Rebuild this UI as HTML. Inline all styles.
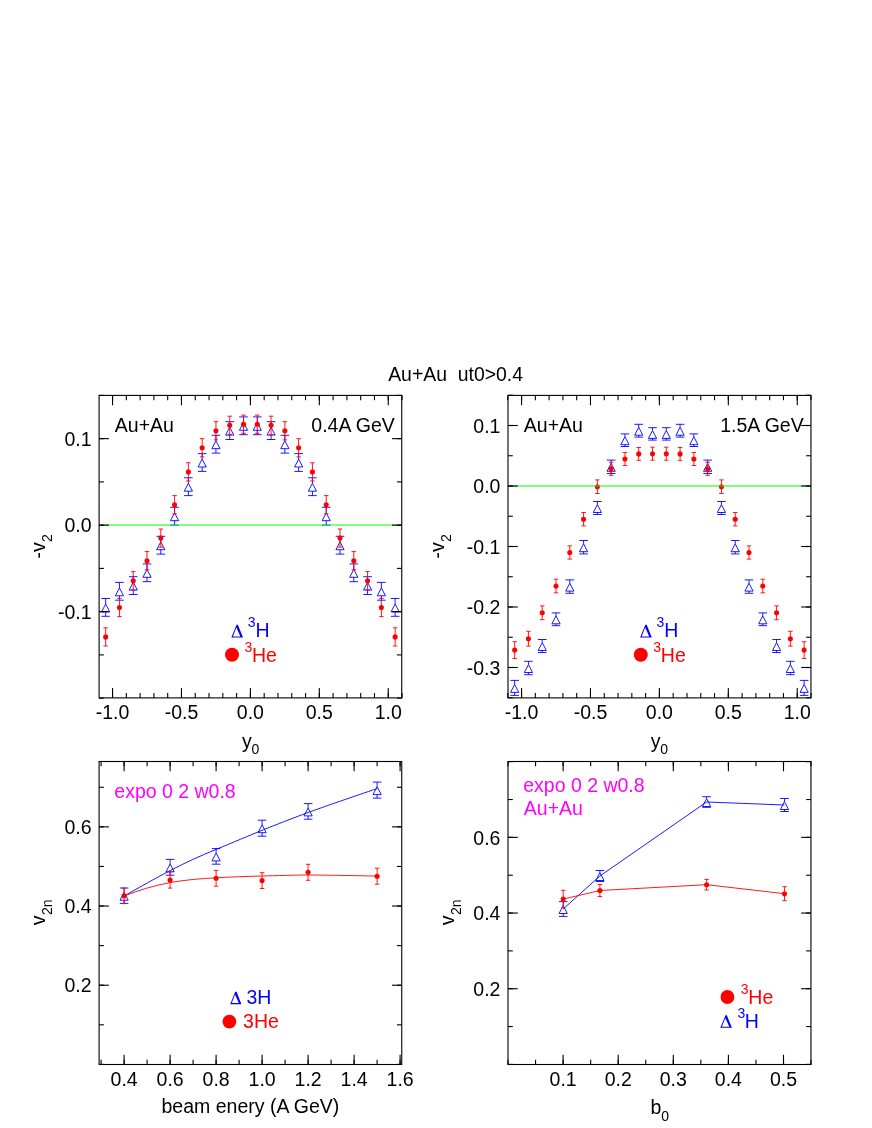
<!DOCTYPE html>
<html><head><meta charset="utf-8"><title>Au+Au ut0&gt;0.4</title>
<style>html,body{margin:0;padding:0;background:#fff}svg{display:block;will-change:transform}text{font-family:"Liberation Sans",sans-serif;white-space:pre}</style></head><body>
<svg width="872" height="1128" viewBox="0 0 872 1128">
<rect width="872" height="1128" fill="#fff"/>
<text x="388.2" y="381" fill="#000" font-size="19.4" text-anchor="start" xml:space="preserve">Au+Au  ut0&gt;0.4</text>
<line x1="105.66" y1="604" x2="105.66" y2="598.5" stroke="#0000ff" stroke-width="0.9"/>
<line x1="105.66" y1="611.9" x2="105.66" y2="616.3" stroke="#0000ff" stroke-width="0.9"/>
<line x1="101.36" y1="598.5" x2="109.96" y2="598.5" stroke="#0000ff" stroke-width="0.9"/>
<line x1="101.36" y1="616.3" x2="109.96" y2="616.3" stroke="#0000ff" stroke-width="0.9"/>
<path d="M101.56 611.9L109.76 611.9L105.66 604Z" fill="none" stroke="#0000ff" stroke-width="0.9"/>
<line x1="119.44" y1="587.9" x2="119.44" y2="582.4" stroke="#0000ff" stroke-width="0.9"/>
<line x1="119.44" y1="595.8" x2="119.44" y2="600.2" stroke="#0000ff" stroke-width="0.9"/>
<line x1="115.14" y1="582.4" x2="123.74" y2="582.4" stroke="#0000ff" stroke-width="0.9"/>
<line x1="115.14" y1="600.2" x2="123.74" y2="600.2" stroke="#0000ff" stroke-width="0.9"/>
<path d="M115.34 595.8L123.54 595.8L119.44 587.9Z" fill="none" stroke="#0000ff" stroke-width="0.9"/>
<line x1="133.23" y1="582.2" x2="133.23" y2="576.7" stroke="#0000ff" stroke-width="0.9"/>
<line x1="133.23" y1="590.1" x2="133.23" y2="594.5" stroke="#0000ff" stroke-width="0.9"/>
<line x1="128.93" y1="576.7" x2="137.53" y2="576.7" stroke="#0000ff" stroke-width="0.9"/>
<line x1="128.93" y1="594.5" x2="137.53" y2="594.5" stroke="#0000ff" stroke-width="0.9"/>
<path d="M129.13 590.1L137.33 590.1L133.23 582.2Z" fill="none" stroke="#0000ff" stroke-width="0.9"/>
<line x1="147.01" y1="569.4" x2="147.01" y2="563.9" stroke="#0000ff" stroke-width="0.9"/>
<line x1="147.01" y1="577.3" x2="147.01" y2="581.7" stroke="#0000ff" stroke-width="0.9"/>
<line x1="142.71" y1="563.9" x2="151.31" y2="563.9" stroke="#0000ff" stroke-width="0.9"/>
<line x1="142.71" y1="581.7" x2="151.31" y2="581.7" stroke="#0000ff" stroke-width="0.9"/>
<path d="M142.91 577.3L151.11 577.3L147.01 569.4Z" fill="none" stroke="#0000ff" stroke-width="0.9"/>
<line x1="160.8" y1="541.8" x2="160.8" y2="536.3" stroke="#0000ff" stroke-width="0.9"/>
<line x1="160.8" y1="549.7" x2="160.8" y2="554.1" stroke="#0000ff" stroke-width="0.9"/>
<line x1="156.5" y1="536.3" x2="165.1" y2="536.3" stroke="#0000ff" stroke-width="0.9"/>
<line x1="156.5" y1="554.1" x2="165.1" y2="554.1" stroke="#0000ff" stroke-width="0.9"/>
<path d="M156.7 549.7L164.9 549.7L160.8 541.8Z" fill="none" stroke="#0000ff" stroke-width="0.9"/>
<line x1="174.58" y1="512.8" x2="174.58" y2="507.3" stroke="#0000ff" stroke-width="0.9"/>
<line x1="174.58" y1="520.7" x2="174.58" y2="525.1" stroke="#0000ff" stroke-width="0.9"/>
<line x1="170.28" y1="507.3" x2="178.88" y2="507.3" stroke="#0000ff" stroke-width="0.9"/>
<line x1="170.28" y1="525.1" x2="178.88" y2="525.1" stroke="#0000ff" stroke-width="0.9"/>
<path d="M170.48 520.7L178.68 520.7L174.58 512.8Z" fill="none" stroke="#0000ff" stroke-width="0.9"/>
<line x1="188.37" y1="483.3" x2="188.37" y2="477.8" stroke="#0000ff" stroke-width="0.9"/>
<line x1="188.37" y1="491.2" x2="188.37" y2="495.6" stroke="#0000ff" stroke-width="0.9"/>
<line x1="184.07" y1="477.8" x2="192.67" y2="477.8" stroke="#0000ff" stroke-width="0.9"/>
<line x1="184.07" y1="495.6" x2="192.67" y2="495.6" stroke="#0000ff" stroke-width="0.9"/>
<path d="M184.27 491.2L192.47 491.2L188.37 483.3Z" fill="none" stroke="#0000ff" stroke-width="0.9"/>
<line x1="202.15" y1="459.1" x2="202.15" y2="453.6" stroke="#0000ff" stroke-width="0.9"/>
<line x1="202.15" y1="467" x2="202.15" y2="471.4" stroke="#0000ff" stroke-width="0.9"/>
<line x1="197.85" y1="453.6" x2="206.45" y2="453.6" stroke="#0000ff" stroke-width="0.9"/>
<line x1="197.85" y1="471.4" x2="206.45" y2="471.4" stroke="#0000ff" stroke-width="0.9"/>
<path d="M198.05 467L206.25 467L202.15 459.1Z" fill="none" stroke="#0000ff" stroke-width="0.9"/>
<line x1="215.94" y1="440.8" x2="215.94" y2="435.3" stroke="#0000ff" stroke-width="0.9"/>
<line x1="215.94" y1="448.7" x2="215.94" y2="453.1" stroke="#0000ff" stroke-width="0.9"/>
<line x1="211.64" y1="435.3" x2="220.24" y2="435.3" stroke="#0000ff" stroke-width="0.9"/>
<line x1="211.64" y1="453.1" x2="220.24" y2="453.1" stroke="#0000ff" stroke-width="0.9"/>
<path d="M211.84 448.7L220.04 448.7L215.94 440.8Z" fill="none" stroke="#0000ff" stroke-width="0.9"/>
<line x1="229.72" y1="427.2" x2="229.72" y2="421.7" stroke="#0000ff" stroke-width="0.9"/>
<line x1="229.72" y1="435.1" x2="229.72" y2="439.5" stroke="#0000ff" stroke-width="0.9"/>
<line x1="225.42" y1="421.7" x2="234.02" y2="421.7" stroke="#0000ff" stroke-width="0.9"/>
<line x1="225.42" y1="439.5" x2="234.02" y2="439.5" stroke="#0000ff" stroke-width="0.9"/>
<path d="M225.62 435.1L233.82 435.1L229.72 427.2Z" fill="none" stroke="#0000ff" stroke-width="0.9"/>
<line x1="243.51" y1="422.4" x2="243.51" y2="416.9" stroke="#0000ff" stroke-width="0.9"/>
<line x1="243.51" y1="430.3" x2="243.51" y2="434.7" stroke="#0000ff" stroke-width="0.9"/>
<line x1="239.21" y1="416.9" x2="247.81" y2="416.9" stroke="#0000ff" stroke-width="0.9"/>
<line x1="239.21" y1="434.7" x2="247.81" y2="434.7" stroke="#0000ff" stroke-width="0.9"/>
<path d="M239.41 430.3L247.61 430.3L243.51 422.4Z" fill="none" stroke="#0000ff" stroke-width="0.9"/>
<line x1="257.29" y1="422.4" x2="257.29" y2="416.9" stroke="#0000ff" stroke-width="0.9"/>
<line x1="257.29" y1="430.3" x2="257.29" y2="434.7" stroke="#0000ff" stroke-width="0.9"/>
<line x1="252.99" y1="416.9" x2="261.59" y2="416.9" stroke="#0000ff" stroke-width="0.9"/>
<line x1="252.99" y1="434.7" x2="261.59" y2="434.7" stroke="#0000ff" stroke-width="0.9"/>
<path d="M253.19 430.3L261.39 430.3L257.29 422.4Z" fill="none" stroke="#0000ff" stroke-width="0.9"/>
<line x1="271.08" y1="427.2" x2="271.08" y2="421.7" stroke="#0000ff" stroke-width="0.9"/>
<line x1="271.08" y1="435.1" x2="271.08" y2="439.5" stroke="#0000ff" stroke-width="0.9"/>
<line x1="266.78" y1="421.7" x2="275.38" y2="421.7" stroke="#0000ff" stroke-width="0.9"/>
<line x1="266.78" y1="439.5" x2="275.38" y2="439.5" stroke="#0000ff" stroke-width="0.9"/>
<path d="M266.98 435.1L275.18 435.1L271.08 427.2Z" fill="none" stroke="#0000ff" stroke-width="0.9"/>
<line x1="284.86" y1="440.8" x2="284.86" y2="435.3" stroke="#0000ff" stroke-width="0.9"/>
<line x1="284.86" y1="448.7" x2="284.86" y2="453.1" stroke="#0000ff" stroke-width="0.9"/>
<line x1="280.56" y1="435.3" x2="289.16" y2="435.3" stroke="#0000ff" stroke-width="0.9"/>
<line x1="280.56" y1="453.1" x2="289.16" y2="453.1" stroke="#0000ff" stroke-width="0.9"/>
<path d="M280.76 448.7L288.96 448.7L284.86 440.8Z" fill="none" stroke="#0000ff" stroke-width="0.9"/>
<line x1="298.65" y1="459.1" x2="298.65" y2="453.6" stroke="#0000ff" stroke-width="0.9"/>
<line x1="298.65" y1="467" x2="298.65" y2="471.4" stroke="#0000ff" stroke-width="0.9"/>
<line x1="294.35" y1="453.6" x2="302.95" y2="453.6" stroke="#0000ff" stroke-width="0.9"/>
<line x1="294.35" y1="471.4" x2="302.95" y2="471.4" stroke="#0000ff" stroke-width="0.9"/>
<path d="M294.55 467L302.75 467L298.65 459.1Z" fill="none" stroke="#0000ff" stroke-width="0.9"/>
<line x1="312.43" y1="483.3" x2="312.43" y2="477.8" stroke="#0000ff" stroke-width="0.9"/>
<line x1="312.43" y1="491.2" x2="312.43" y2="495.6" stroke="#0000ff" stroke-width="0.9"/>
<line x1="308.13" y1="477.8" x2="316.73" y2="477.8" stroke="#0000ff" stroke-width="0.9"/>
<line x1="308.13" y1="495.6" x2="316.73" y2="495.6" stroke="#0000ff" stroke-width="0.9"/>
<path d="M308.33 491.2L316.53 491.2L312.43 483.3Z" fill="none" stroke="#0000ff" stroke-width="0.9"/>
<line x1="326.22" y1="512.8" x2="326.22" y2="507.3" stroke="#0000ff" stroke-width="0.9"/>
<line x1="326.22" y1="520.7" x2="326.22" y2="525.1" stroke="#0000ff" stroke-width="0.9"/>
<line x1="321.92" y1="507.3" x2="330.52" y2="507.3" stroke="#0000ff" stroke-width="0.9"/>
<line x1="321.92" y1="525.1" x2="330.52" y2="525.1" stroke="#0000ff" stroke-width="0.9"/>
<path d="M322.12 520.7L330.32 520.7L326.22 512.8Z" fill="none" stroke="#0000ff" stroke-width="0.9"/>
<line x1="340" y1="541.8" x2="340" y2="536.3" stroke="#0000ff" stroke-width="0.9"/>
<line x1="340" y1="549.7" x2="340" y2="554.1" stroke="#0000ff" stroke-width="0.9"/>
<line x1="335.7" y1="536.3" x2="344.3" y2="536.3" stroke="#0000ff" stroke-width="0.9"/>
<line x1="335.7" y1="554.1" x2="344.3" y2="554.1" stroke="#0000ff" stroke-width="0.9"/>
<path d="M335.9 549.7L344.1 549.7L340 541.8Z" fill="none" stroke="#0000ff" stroke-width="0.9"/>
<line x1="353.79" y1="569.4" x2="353.79" y2="563.9" stroke="#0000ff" stroke-width="0.9"/>
<line x1="353.79" y1="577.3" x2="353.79" y2="581.7" stroke="#0000ff" stroke-width="0.9"/>
<line x1="349.49" y1="563.9" x2="358.09" y2="563.9" stroke="#0000ff" stroke-width="0.9"/>
<line x1="349.49" y1="581.7" x2="358.09" y2="581.7" stroke="#0000ff" stroke-width="0.9"/>
<path d="M349.69 577.3L357.89 577.3L353.79 569.4Z" fill="none" stroke="#0000ff" stroke-width="0.9"/>
<line x1="367.57" y1="582.2" x2="367.57" y2="576.7" stroke="#0000ff" stroke-width="0.9"/>
<line x1="367.57" y1="590.1" x2="367.57" y2="594.5" stroke="#0000ff" stroke-width="0.9"/>
<line x1="363.27" y1="576.7" x2="371.87" y2="576.7" stroke="#0000ff" stroke-width="0.9"/>
<line x1="363.27" y1="594.5" x2="371.87" y2="594.5" stroke="#0000ff" stroke-width="0.9"/>
<path d="M363.47 590.1L371.67 590.1L367.57 582.2Z" fill="none" stroke="#0000ff" stroke-width="0.9"/>
<line x1="381.36" y1="587.9" x2="381.36" y2="582.4" stroke="#0000ff" stroke-width="0.9"/>
<line x1="381.36" y1="595.8" x2="381.36" y2="600.2" stroke="#0000ff" stroke-width="0.9"/>
<line x1="377.06" y1="582.4" x2="385.66" y2="582.4" stroke="#0000ff" stroke-width="0.9"/>
<line x1="377.06" y1="600.2" x2="385.66" y2="600.2" stroke="#0000ff" stroke-width="0.9"/>
<path d="M377.26 595.8L385.46 595.8L381.36 587.9Z" fill="none" stroke="#0000ff" stroke-width="0.9"/>
<line x1="395.14" y1="604" x2="395.14" y2="598.5" stroke="#0000ff" stroke-width="0.9"/>
<line x1="395.14" y1="611.9" x2="395.14" y2="616.3" stroke="#0000ff" stroke-width="0.9"/>
<line x1="390.84" y1="598.5" x2="399.44" y2="598.5" stroke="#0000ff" stroke-width="0.9"/>
<line x1="390.84" y1="616.3" x2="399.44" y2="616.3" stroke="#0000ff" stroke-width="0.9"/>
<path d="M391.04 611.9L399.24 611.9L395.14 604Z" fill="none" stroke="#0000ff" stroke-width="0.9"/>
<line x1="105.66" y1="634.9" x2="105.66" y2="627.8" stroke="#ff0000" stroke-width="0.9"/>
<line x1="105.66" y1="638.9" x2="105.66" y2="646" stroke="#ff0000" stroke-width="0.9"/>
<line x1="103.41" y1="627.8" x2="107.91" y2="627.8" stroke="#ff0000" stroke-width="0.9"/>
<line x1="103.41" y1="646" x2="107.91" y2="646" stroke="#ff0000" stroke-width="0.9"/>
<circle cx="105.66" cy="636.9" r="2.55" fill="#ff0000"/>
<line x1="119.44" y1="605.5" x2="119.44" y2="598.4" stroke="#ff0000" stroke-width="0.9"/>
<line x1="119.44" y1="609.5" x2="119.44" y2="616.6" stroke="#ff0000" stroke-width="0.9"/>
<line x1="117.19" y1="598.4" x2="121.69" y2="598.4" stroke="#ff0000" stroke-width="0.9"/>
<line x1="117.19" y1="616.6" x2="121.69" y2="616.6" stroke="#ff0000" stroke-width="0.9"/>
<circle cx="119.44" cy="607.5" r="2.55" fill="#ff0000"/>
<line x1="133.23" y1="578.7" x2="133.23" y2="571.6" stroke="#ff0000" stroke-width="0.9"/>
<line x1="133.23" y1="582.7" x2="133.23" y2="589.8" stroke="#ff0000" stroke-width="0.9"/>
<line x1="130.98" y1="571.6" x2="135.48" y2="571.6" stroke="#ff0000" stroke-width="0.9"/>
<line x1="130.98" y1="589.8" x2="135.48" y2="589.8" stroke="#ff0000" stroke-width="0.9"/>
<circle cx="133.23" cy="580.7" r="2.55" fill="#ff0000"/>
<line x1="147.01" y1="558.7" x2="147.01" y2="551.6" stroke="#ff0000" stroke-width="0.9"/>
<line x1="147.01" y1="562.7" x2="147.01" y2="569.8" stroke="#ff0000" stroke-width="0.9"/>
<line x1="144.76" y1="551.6" x2="149.26" y2="551.6" stroke="#ff0000" stroke-width="0.9"/>
<line x1="144.76" y1="569.8" x2="149.26" y2="569.8" stroke="#ff0000" stroke-width="0.9"/>
<circle cx="147.01" cy="560.7" r="2.55" fill="#ff0000"/>
<line x1="160.8" y1="536.1" x2="160.8" y2="529" stroke="#ff0000" stroke-width="0.9"/>
<line x1="160.8" y1="540.1" x2="160.8" y2="547.2" stroke="#ff0000" stroke-width="0.9"/>
<line x1="158.55" y1="529" x2="163.05" y2="529" stroke="#ff0000" stroke-width="0.9"/>
<line x1="158.55" y1="547.2" x2="163.05" y2="547.2" stroke="#ff0000" stroke-width="0.9"/>
<circle cx="160.8" cy="538.1" r="2.55" fill="#ff0000"/>
<line x1="174.58" y1="502.7" x2="174.58" y2="495.6" stroke="#ff0000" stroke-width="0.9"/>
<line x1="174.58" y1="506.7" x2="174.58" y2="513.8" stroke="#ff0000" stroke-width="0.9"/>
<line x1="172.33" y1="495.6" x2="176.83" y2="495.6" stroke="#ff0000" stroke-width="0.9"/>
<line x1="172.33" y1="513.8" x2="176.83" y2="513.8" stroke="#ff0000" stroke-width="0.9"/>
<circle cx="174.58" cy="504.7" r="2.55" fill="#ff0000"/>
<line x1="188.37" y1="469.9" x2="188.37" y2="462.8" stroke="#ff0000" stroke-width="0.9"/>
<line x1="188.37" y1="473.9" x2="188.37" y2="481" stroke="#ff0000" stroke-width="0.9"/>
<line x1="186.12" y1="462.8" x2="190.62" y2="462.8" stroke="#ff0000" stroke-width="0.9"/>
<line x1="186.12" y1="481" x2="190.62" y2="481" stroke="#ff0000" stroke-width="0.9"/>
<circle cx="188.37" cy="471.9" r="2.55" fill="#ff0000"/>
<line x1="202.15" y1="445.8" x2="202.15" y2="438.7" stroke="#ff0000" stroke-width="0.9"/>
<line x1="202.15" y1="449.8" x2="202.15" y2="456.9" stroke="#ff0000" stroke-width="0.9"/>
<line x1="199.9" y1="438.7" x2="204.4" y2="438.7" stroke="#ff0000" stroke-width="0.9"/>
<line x1="199.9" y1="456.9" x2="204.4" y2="456.9" stroke="#ff0000" stroke-width="0.9"/>
<circle cx="202.15" cy="447.8" r="2.55" fill="#ff0000"/>
<line x1="215.94" y1="428.8" x2="215.94" y2="421.7" stroke="#ff0000" stroke-width="0.9"/>
<line x1="215.94" y1="432.8" x2="215.94" y2="439.9" stroke="#ff0000" stroke-width="0.9"/>
<line x1="213.69" y1="421.7" x2="218.19" y2="421.7" stroke="#ff0000" stroke-width="0.9"/>
<line x1="213.69" y1="439.9" x2="218.19" y2="439.9" stroke="#ff0000" stroke-width="0.9"/>
<circle cx="215.94" cy="430.8" r="2.55" fill="#ff0000"/>
<line x1="229.72" y1="423.3" x2="229.72" y2="416.2" stroke="#ff0000" stroke-width="0.9"/>
<line x1="229.72" y1="427.3" x2="229.72" y2="434.4" stroke="#ff0000" stroke-width="0.9"/>
<line x1="227.47" y1="416.2" x2="231.97" y2="416.2" stroke="#ff0000" stroke-width="0.9"/>
<line x1="227.47" y1="434.4" x2="231.97" y2="434.4" stroke="#ff0000" stroke-width="0.9"/>
<circle cx="229.72" cy="425.3" r="2.55" fill="#ff0000"/>
<line x1="243.51" y1="422.2" x2="243.51" y2="415.1" stroke="#ff0000" stroke-width="0.9"/>
<line x1="243.51" y1="426.2" x2="243.51" y2="433.3" stroke="#ff0000" stroke-width="0.9"/>
<line x1="241.26" y1="415.1" x2="245.76" y2="415.1" stroke="#ff0000" stroke-width="0.9"/>
<line x1="241.26" y1="433.3" x2="245.76" y2="433.3" stroke="#ff0000" stroke-width="0.9"/>
<circle cx="243.51" cy="424.2" r="2.55" fill="#ff0000"/>
<line x1="257.29" y1="422.2" x2="257.29" y2="415.1" stroke="#ff0000" stroke-width="0.9"/>
<line x1="257.29" y1="426.2" x2="257.29" y2="433.3" stroke="#ff0000" stroke-width="0.9"/>
<line x1="255.04" y1="415.1" x2="259.54" y2="415.1" stroke="#ff0000" stroke-width="0.9"/>
<line x1="255.04" y1="433.3" x2="259.54" y2="433.3" stroke="#ff0000" stroke-width="0.9"/>
<circle cx="257.29" cy="424.2" r="2.55" fill="#ff0000"/>
<line x1="271.08" y1="423.3" x2="271.08" y2="416.2" stroke="#ff0000" stroke-width="0.9"/>
<line x1="271.08" y1="427.3" x2="271.08" y2="434.4" stroke="#ff0000" stroke-width="0.9"/>
<line x1="268.83" y1="416.2" x2="273.33" y2="416.2" stroke="#ff0000" stroke-width="0.9"/>
<line x1="268.83" y1="434.4" x2="273.33" y2="434.4" stroke="#ff0000" stroke-width="0.9"/>
<circle cx="271.08" cy="425.3" r="2.55" fill="#ff0000"/>
<line x1="284.86" y1="428.8" x2="284.86" y2="421.7" stroke="#ff0000" stroke-width="0.9"/>
<line x1="284.86" y1="432.8" x2="284.86" y2="439.9" stroke="#ff0000" stroke-width="0.9"/>
<line x1="282.61" y1="421.7" x2="287.11" y2="421.7" stroke="#ff0000" stroke-width="0.9"/>
<line x1="282.61" y1="439.9" x2="287.11" y2="439.9" stroke="#ff0000" stroke-width="0.9"/>
<circle cx="284.86" cy="430.8" r="2.55" fill="#ff0000"/>
<line x1="298.65" y1="445.8" x2="298.65" y2="438.7" stroke="#ff0000" stroke-width="0.9"/>
<line x1="298.65" y1="449.8" x2="298.65" y2="456.9" stroke="#ff0000" stroke-width="0.9"/>
<line x1="296.4" y1="438.7" x2="300.9" y2="438.7" stroke="#ff0000" stroke-width="0.9"/>
<line x1="296.4" y1="456.9" x2="300.9" y2="456.9" stroke="#ff0000" stroke-width="0.9"/>
<circle cx="298.65" cy="447.8" r="2.55" fill="#ff0000"/>
<line x1="312.43" y1="469.9" x2="312.43" y2="462.8" stroke="#ff0000" stroke-width="0.9"/>
<line x1="312.43" y1="473.9" x2="312.43" y2="481" stroke="#ff0000" stroke-width="0.9"/>
<line x1="310.18" y1="462.8" x2="314.68" y2="462.8" stroke="#ff0000" stroke-width="0.9"/>
<line x1="310.18" y1="481" x2="314.68" y2="481" stroke="#ff0000" stroke-width="0.9"/>
<circle cx="312.43" cy="471.9" r="2.55" fill="#ff0000"/>
<line x1="326.22" y1="502.7" x2="326.22" y2="495.6" stroke="#ff0000" stroke-width="0.9"/>
<line x1="326.22" y1="506.7" x2="326.22" y2="513.8" stroke="#ff0000" stroke-width="0.9"/>
<line x1="323.97" y1="495.6" x2="328.47" y2="495.6" stroke="#ff0000" stroke-width="0.9"/>
<line x1="323.97" y1="513.8" x2="328.47" y2="513.8" stroke="#ff0000" stroke-width="0.9"/>
<circle cx="326.22" cy="504.7" r="2.55" fill="#ff0000"/>
<line x1="340" y1="536.1" x2="340" y2="529" stroke="#ff0000" stroke-width="0.9"/>
<line x1="340" y1="540.1" x2="340" y2="547.2" stroke="#ff0000" stroke-width="0.9"/>
<line x1="337.75" y1="529" x2="342.25" y2="529" stroke="#ff0000" stroke-width="0.9"/>
<line x1="337.75" y1="547.2" x2="342.25" y2="547.2" stroke="#ff0000" stroke-width="0.9"/>
<circle cx="340" cy="538.1" r="2.55" fill="#ff0000"/>
<line x1="353.79" y1="558.7" x2="353.79" y2="551.6" stroke="#ff0000" stroke-width="0.9"/>
<line x1="353.79" y1="562.7" x2="353.79" y2="569.8" stroke="#ff0000" stroke-width="0.9"/>
<line x1="351.54" y1="551.6" x2="356.04" y2="551.6" stroke="#ff0000" stroke-width="0.9"/>
<line x1="351.54" y1="569.8" x2="356.04" y2="569.8" stroke="#ff0000" stroke-width="0.9"/>
<circle cx="353.79" cy="560.7" r="2.55" fill="#ff0000"/>
<line x1="367.57" y1="578.7" x2="367.57" y2="571.6" stroke="#ff0000" stroke-width="0.9"/>
<line x1="367.57" y1="582.7" x2="367.57" y2="589.8" stroke="#ff0000" stroke-width="0.9"/>
<line x1="365.32" y1="571.6" x2="369.82" y2="571.6" stroke="#ff0000" stroke-width="0.9"/>
<line x1="365.32" y1="589.8" x2="369.82" y2="589.8" stroke="#ff0000" stroke-width="0.9"/>
<circle cx="367.57" cy="580.7" r="2.55" fill="#ff0000"/>
<line x1="381.36" y1="605.5" x2="381.36" y2="598.4" stroke="#ff0000" stroke-width="0.9"/>
<line x1="381.36" y1="609.5" x2="381.36" y2="616.6" stroke="#ff0000" stroke-width="0.9"/>
<line x1="379.11" y1="598.4" x2="383.61" y2="598.4" stroke="#ff0000" stroke-width="0.9"/>
<line x1="379.11" y1="616.6" x2="383.61" y2="616.6" stroke="#ff0000" stroke-width="0.9"/>
<circle cx="381.36" cy="607.5" r="2.55" fill="#ff0000"/>
<line x1="395.14" y1="634.9" x2="395.14" y2="627.8" stroke="#ff0000" stroke-width="0.9"/>
<line x1="395.14" y1="638.9" x2="395.14" y2="646" stroke="#ff0000" stroke-width="0.9"/>
<line x1="392.89" y1="627.8" x2="397.39" y2="627.8" stroke="#ff0000" stroke-width="0.9"/>
<line x1="392.89" y1="646" x2="397.39" y2="646" stroke="#ff0000" stroke-width="0.9"/>
<circle cx="395.14" cy="636.9" r="2.55" fill="#ff0000"/>
<line x1="99.1" y1="525.05" x2="401.75" y2="525.05" stroke="#00ff00" stroke-width="1.05"/>
<rect x="99.1" y="395.4" width="302.65" height="302.5" fill="none" stroke="#000" stroke-width="1.1"/>
<line x1="112.55" y1="697.9" x2="112.55" y2="693.1" stroke="#000" stroke-width="1.1"/>
<line x1="112.55" y1="395.4" x2="112.55" y2="400.2" stroke="#000" stroke-width="1.1"/>
<line x1="126.34" y1="697.9" x2="126.34" y2="693.1" stroke="#000" stroke-width="1.1"/>
<line x1="126.34" y1="395.4" x2="126.34" y2="400.2" stroke="#000" stroke-width="1.1"/>
<line x1="140.12" y1="697.9" x2="140.12" y2="693.1" stroke="#000" stroke-width="1.1"/>
<line x1="140.12" y1="395.4" x2="140.12" y2="400.2" stroke="#000" stroke-width="1.1"/>
<line x1="153.91" y1="697.9" x2="153.91" y2="693.1" stroke="#000" stroke-width="1.1"/>
<line x1="153.91" y1="395.4" x2="153.91" y2="400.2" stroke="#000" stroke-width="1.1"/>
<line x1="167.69" y1="697.9" x2="167.69" y2="693.1" stroke="#000" stroke-width="1.1"/>
<line x1="167.69" y1="395.4" x2="167.69" y2="400.2" stroke="#000" stroke-width="1.1"/>
<line x1="181.48" y1="697.9" x2="181.48" y2="693.1" stroke="#000" stroke-width="1.1"/>
<line x1="181.48" y1="395.4" x2="181.48" y2="400.2" stroke="#000" stroke-width="1.1"/>
<line x1="195.26" y1="697.9" x2="195.26" y2="693.1" stroke="#000" stroke-width="1.1"/>
<line x1="195.26" y1="395.4" x2="195.26" y2="400.2" stroke="#000" stroke-width="1.1"/>
<line x1="209.05" y1="697.9" x2="209.05" y2="693.1" stroke="#000" stroke-width="1.1"/>
<line x1="209.05" y1="395.4" x2="209.05" y2="400.2" stroke="#000" stroke-width="1.1"/>
<line x1="222.83" y1="697.9" x2="222.83" y2="693.1" stroke="#000" stroke-width="1.1"/>
<line x1="222.83" y1="395.4" x2="222.83" y2="400.2" stroke="#000" stroke-width="1.1"/>
<line x1="236.62" y1="697.9" x2="236.62" y2="693.1" stroke="#000" stroke-width="1.1"/>
<line x1="236.62" y1="395.4" x2="236.62" y2="400.2" stroke="#000" stroke-width="1.1"/>
<line x1="250.4" y1="697.9" x2="250.4" y2="693.1" stroke="#000" stroke-width="1.1"/>
<line x1="250.4" y1="395.4" x2="250.4" y2="400.2" stroke="#000" stroke-width="1.1"/>
<line x1="264.19" y1="697.9" x2="264.19" y2="693.1" stroke="#000" stroke-width="1.1"/>
<line x1="264.19" y1="395.4" x2="264.19" y2="400.2" stroke="#000" stroke-width="1.1"/>
<line x1="277.97" y1="697.9" x2="277.97" y2="693.1" stroke="#000" stroke-width="1.1"/>
<line x1="277.97" y1="395.4" x2="277.97" y2="400.2" stroke="#000" stroke-width="1.1"/>
<line x1="291.75" y1="697.9" x2="291.75" y2="693.1" stroke="#000" stroke-width="1.1"/>
<line x1="291.75" y1="395.4" x2="291.75" y2="400.2" stroke="#000" stroke-width="1.1"/>
<line x1="305.54" y1="697.9" x2="305.54" y2="693.1" stroke="#000" stroke-width="1.1"/>
<line x1="305.54" y1="395.4" x2="305.54" y2="400.2" stroke="#000" stroke-width="1.1"/>
<line x1="319.32" y1="697.9" x2="319.32" y2="693.1" stroke="#000" stroke-width="1.1"/>
<line x1="319.32" y1="395.4" x2="319.32" y2="400.2" stroke="#000" stroke-width="1.1"/>
<line x1="333.11" y1="697.9" x2="333.11" y2="693.1" stroke="#000" stroke-width="1.1"/>
<line x1="333.11" y1="395.4" x2="333.11" y2="400.2" stroke="#000" stroke-width="1.1"/>
<line x1="346.89" y1="697.9" x2="346.89" y2="693.1" stroke="#000" stroke-width="1.1"/>
<line x1="346.89" y1="395.4" x2="346.89" y2="400.2" stroke="#000" stroke-width="1.1"/>
<line x1="360.68" y1="697.9" x2="360.68" y2="693.1" stroke="#000" stroke-width="1.1"/>
<line x1="360.68" y1="395.4" x2="360.68" y2="400.2" stroke="#000" stroke-width="1.1"/>
<line x1="374.47" y1="697.9" x2="374.47" y2="693.1" stroke="#000" stroke-width="1.1"/>
<line x1="374.47" y1="395.4" x2="374.47" y2="400.2" stroke="#000" stroke-width="1.1"/>
<line x1="388.25" y1="697.9" x2="388.25" y2="693.1" stroke="#000" stroke-width="1.1"/>
<line x1="388.25" y1="395.4" x2="388.25" y2="400.2" stroke="#000" stroke-width="1.1"/>
<line x1="402.04" y1="697.9" x2="402.04" y2="693.1" stroke="#000" stroke-width="1.1"/>
<line x1="402.04" y1="395.4" x2="402.04" y2="400.2" stroke="#000" stroke-width="1.1"/>
<line x1="112.55" y1="697.9" x2="112.55" y2="688.1" stroke="#000" stroke-width="1.1"/>
<line x1="112.55" y1="395.4" x2="112.55" y2="405.2" stroke="#000" stroke-width="1.1"/>
<text x="112.55" y="719" fill="#000" font-size="19.5" text-anchor="middle">-1.0</text>
<line x1="181.48" y1="697.9" x2="181.48" y2="688.1" stroke="#000" stroke-width="1.1"/>
<line x1="181.48" y1="395.4" x2="181.48" y2="405.2" stroke="#000" stroke-width="1.1"/>
<text x="181.48" y="719" fill="#000" font-size="19.5" text-anchor="middle">-0.5</text>
<line x1="250.4" y1="697.9" x2="250.4" y2="688.1" stroke="#000" stroke-width="1.1"/>
<line x1="250.4" y1="395.4" x2="250.4" y2="405.2" stroke="#000" stroke-width="1.1"/>
<text x="250.4" y="719" fill="#000" font-size="19.5" text-anchor="middle">0.0</text>
<line x1="319.32" y1="697.9" x2="319.32" y2="688.1" stroke="#000" stroke-width="1.1"/>
<line x1="319.32" y1="395.4" x2="319.32" y2="405.2" stroke="#000" stroke-width="1.1"/>
<text x="319.32" y="719" fill="#000" font-size="19.5" text-anchor="middle">0.5</text>
<line x1="388.25" y1="697.9" x2="388.25" y2="688.1" stroke="#000" stroke-width="1.1"/>
<line x1="388.25" y1="395.4" x2="388.25" y2="405.2" stroke="#000" stroke-width="1.1"/>
<text x="388.25" y="719" fill="#000" font-size="19.5" text-anchor="middle">1.0</text>
<line x1="99.1" y1="698.15" x2="103.9" y2="698.15" stroke="#000" stroke-width="1.1"/>
<line x1="401.75" y1="698.15" x2="396.95" y2="698.15" stroke="#000" stroke-width="1.1"/>
<line x1="99.1" y1="654.9" x2="103.9" y2="654.9" stroke="#000" stroke-width="1.1"/>
<line x1="401.75" y1="654.9" x2="396.95" y2="654.9" stroke="#000" stroke-width="1.1"/>
<line x1="99.1" y1="611.65" x2="103.9" y2="611.65" stroke="#000" stroke-width="1.1"/>
<line x1="401.75" y1="611.65" x2="396.95" y2="611.65" stroke="#000" stroke-width="1.1"/>
<line x1="99.1" y1="568.4" x2="103.9" y2="568.4" stroke="#000" stroke-width="1.1"/>
<line x1="401.75" y1="568.4" x2="396.95" y2="568.4" stroke="#000" stroke-width="1.1"/>
<line x1="99.1" y1="525.15" x2="103.9" y2="525.15" stroke="#000" stroke-width="1.1"/>
<line x1="401.75" y1="525.15" x2="396.95" y2="525.15" stroke="#000" stroke-width="1.1"/>
<line x1="99.1" y1="481.9" x2="103.9" y2="481.9" stroke="#000" stroke-width="1.1"/>
<line x1="401.75" y1="481.9" x2="396.95" y2="481.9" stroke="#000" stroke-width="1.1"/>
<line x1="99.1" y1="438.65" x2="103.9" y2="438.65" stroke="#000" stroke-width="1.1"/>
<line x1="401.75" y1="438.65" x2="396.95" y2="438.65" stroke="#000" stroke-width="1.1"/>
<line x1="99.1" y1="395.4" x2="103.9" y2="395.4" stroke="#000" stroke-width="1.1"/>
<line x1="401.75" y1="395.4" x2="396.95" y2="395.4" stroke="#000" stroke-width="1.1"/>
<line x1="99.1" y1="611.65" x2="108.9" y2="611.65" stroke="#000" stroke-width="1.1"/>
<line x1="401.75" y1="611.65" x2="391.95" y2="611.65" stroke="#000" stroke-width="1.1"/>
<text x="91.5" y="618.85" fill="#000" font-size="19.5" text-anchor="end">-0.1</text>
<line x1="99.1" y1="525.15" x2="108.9" y2="525.15" stroke="#000" stroke-width="1.1"/>
<line x1="401.75" y1="525.15" x2="391.95" y2="525.15" stroke="#000" stroke-width="1.1"/>
<text x="91.5" y="532.35" fill="#000" font-size="19.5" text-anchor="end">0.0</text>
<line x1="99.1" y1="438.65" x2="108.9" y2="438.65" stroke="#000" stroke-width="1.1"/>
<line x1="401.75" y1="438.65" x2="391.95" y2="438.65" stroke="#000" stroke-width="1.1"/>
<text x="91.5" y="445.85" fill="#000" font-size="19.5" text-anchor="end">0.1</text>
<text x="114.8" y="431.8" fill="#000" font-size="19.5" text-anchor="start">Au+Au</text>
<text x="311.3" y="431.8" fill="#000" font-size="19.5" text-anchor="start">0.4A GeV</text>
<line x1="514.66" y1="684.5" x2="514.66" y2="680.4" stroke="#0000ff" stroke-width="0.9"/>
<line x1="514.66" y1="692.4" x2="514.66" y2="695.4" stroke="#0000ff" stroke-width="0.9"/>
<line x1="510.36" y1="680.4" x2="518.96" y2="680.4" stroke="#0000ff" stroke-width="0.9"/>
<line x1="510.36" y1="695.4" x2="518.96" y2="695.4" stroke="#0000ff" stroke-width="0.9"/>
<path d="M510.56 692.4L518.76 692.4L514.66 684.5Z" fill="none" stroke="#0000ff" stroke-width="0.9"/>
<line x1="528.44" y1="664.6" x2="528.44" y2="661.3" stroke="#0000ff" stroke-width="0.9"/>
<line x1="528.44" y1="672.5" x2="528.44" y2="674.7" stroke="#0000ff" stroke-width="0.9"/>
<line x1="524.14" y1="661.3" x2="532.74" y2="661.3" stroke="#0000ff" stroke-width="0.9"/>
<line x1="524.14" y1="674.7" x2="532.74" y2="674.7" stroke="#0000ff" stroke-width="0.9"/>
<path d="M524.34 672.5L532.54 672.5L528.44 664.6Z" fill="none" stroke="#0000ff" stroke-width="0.9"/>
<line x1="542.23" y1="642.6" x2="542.23" y2="639.5" stroke="#0000ff" stroke-width="0.9"/>
<line x1="542.23" y1="650.5" x2="542.23" y2="652.5" stroke="#0000ff" stroke-width="0.9"/>
<line x1="537.93" y1="639.5" x2="546.53" y2="639.5" stroke="#0000ff" stroke-width="0.9"/>
<line x1="537.93" y1="652.5" x2="546.53" y2="652.5" stroke="#0000ff" stroke-width="0.9"/>
<path d="M538.13 650.5L546.33 650.5L542.23 642.6Z" fill="none" stroke="#0000ff" stroke-width="0.9"/>
<line x1="556.01" y1="615.9" x2="556.01" y2="612.9" stroke="#0000ff" stroke-width="0.9"/>
<line x1="556.01" y1="623.8" x2="556.01" y2="625.7" stroke="#0000ff" stroke-width="0.9"/>
<line x1="551.71" y1="612.9" x2="560.31" y2="612.9" stroke="#0000ff" stroke-width="0.9"/>
<line x1="551.71" y1="625.7" x2="560.31" y2="625.7" stroke="#0000ff" stroke-width="0.9"/>
<path d="M551.91 623.8L560.11 623.8L556.01 615.9Z" fill="none" stroke="#0000ff" stroke-width="0.9"/>
<line x1="569.8" y1="583.2" x2="569.8" y2="579.9" stroke="#0000ff" stroke-width="0.9"/>
<line x1="569.8" y1="591.1" x2="569.8" y2="593.3" stroke="#0000ff" stroke-width="0.9"/>
<line x1="565.5" y1="579.9" x2="574.1" y2="579.9" stroke="#0000ff" stroke-width="0.9"/>
<line x1="565.5" y1="593.3" x2="574.1" y2="593.3" stroke="#0000ff" stroke-width="0.9"/>
<path d="M565.7 591.1L573.9 591.1L569.8 583.2Z" fill="none" stroke="#0000ff" stroke-width="0.9"/>
<line x1="583.58" y1="543.8" x2="583.58" y2="540.5" stroke="#0000ff" stroke-width="0.9"/>
<line x1="583.58" y1="551.7" x2="583.58" y2="553.9" stroke="#0000ff" stroke-width="0.9"/>
<line x1="579.28" y1="540.5" x2="587.88" y2="540.5" stroke="#0000ff" stroke-width="0.9"/>
<line x1="579.28" y1="553.9" x2="587.88" y2="553.9" stroke="#0000ff" stroke-width="0.9"/>
<path d="M579.48 551.7L587.68 551.7L583.58 543.8Z" fill="none" stroke="#0000ff" stroke-width="0.9"/>
<line x1="597.37" y1="504.6" x2="597.37" y2="501.5" stroke="#0000ff" stroke-width="0.9"/>
<line x1="597.37" y1="512.5" x2="597.37" y2="514.5" stroke="#0000ff" stroke-width="0.9"/>
<line x1="593.07" y1="501.5" x2="601.67" y2="501.5" stroke="#0000ff" stroke-width="0.9"/>
<line x1="593.07" y1="514.5" x2="601.67" y2="514.5" stroke="#0000ff" stroke-width="0.9"/>
<path d="M593.27 512.5L601.47 512.5L597.37 504.6Z" fill="none" stroke="#0000ff" stroke-width="0.9"/>
<line x1="611.15" y1="463.4" x2="611.15" y2="460.1" stroke="#0000ff" stroke-width="0.9"/>
<line x1="611.15" y1="471.3" x2="611.15" y2="473.5" stroke="#0000ff" stroke-width="0.9"/>
<line x1="606.85" y1="460.1" x2="615.45" y2="460.1" stroke="#0000ff" stroke-width="0.9"/>
<line x1="606.85" y1="473.5" x2="615.45" y2="473.5" stroke="#0000ff" stroke-width="0.9"/>
<path d="M607.05 471.3L615.25 471.3L611.15 463.4Z" fill="none" stroke="#0000ff" stroke-width="0.9"/>
<line x1="624.94" y1="436.8" x2="624.94" y2="433.9" stroke="#0000ff" stroke-width="0.9"/>
<line x1="624.94" y1="444.7" x2="624.94" y2="446.5" stroke="#0000ff" stroke-width="0.9"/>
<line x1="620.64" y1="433.9" x2="629.24" y2="433.9" stroke="#0000ff" stroke-width="0.9"/>
<line x1="620.64" y1="446.5" x2="629.24" y2="446.5" stroke="#0000ff" stroke-width="0.9"/>
<path d="M620.84 444.7L629.04 444.7L624.94 436.8Z" fill="none" stroke="#0000ff" stroke-width="0.9"/>
<line x1="638.72" y1="427.3" x2="638.72" y2="424.3" stroke="#0000ff" stroke-width="0.9"/>
<line x1="638.72" y1="435.2" x2="638.72" y2="437.1" stroke="#0000ff" stroke-width="0.9"/>
<line x1="634.42" y1="424.3" x2="643.02" y2="424.3" stroke="#0000ff" stroke-width="0.9"/>
<line x1="634.42" y1="437.1" x2="643.02" y2="437.1" stroke="#0000ff" stroke-width="0.9"/>
<path d="M634.62 435.2L642.82 435.2L638.72 427.3Z" fill="none" stroke="#0000ff" stroke-width="0.9"/>
<line x1="652.51" y1="430.5" x2="652.51" y2="427.7" stroke="#0000ff" stroke-width="0.9"/>
<line x1="652.51" y1="438.4" x2="652.51" y2="440.1" stroke="#0000ff" stroke-width="0.9"/>
<line x1="648.21" y1="427.7" x2="656.81" y2="427.7" stroke="#0000ff" stroke-width="0.9"/>
<line x1="648.21" y1="440.1" x2="656.81" y2="440.1" stroke="#0000ff" stroke-width="0.9"/>
<path d="M648.41 438.4L656.61 438.4L652.51 430.5Z" fill="none" stroke="#0000ff" stroke-width="0.9"/>
<line x1="666.29" y1="430.5" x2="666.29" y2="427.7" stroke="#0000ff" stroke-width="0.9"/>
<line x1="666.29" y1="438.4" x2="666.29" y2="440.1" stroke="#0000ff" stroke-width="0.9"/>
<line x1="661.99" y1="427.7" x2="670.59" y2="427.7" stroke="#0000ff" stroke-width="0.9"/>
<line x1="661.99" y1="440.1" x2="670.59" y2="440.1" stroke="#0000ff" stroke-width="0.9"/>
<path d="M662.19 438.4L670.39 438.4L666.29 430.5Z" fill="none" stroke="#0000ff" stroke-width="0.9"/>
<line x1="680.08" y1="427.3" x2="680.08" y2="424.3" stroke="#0000ff" stroke-width="0.9"/>
<line x1="680.08" y1="435.2" x2="680.08" y2="437.1" stroke="#0000ff" stroke-width="0.9"/>
<line x1="675.78" y1="424.3" x2="684.38" y2="424.3" stroke="#0000ff" stroke-width="0.9"/>
<line x1="675.78" y1="437.1" x2="684.38" y2="437.1" stroke="#0000ff" stroke-width="0.9"/>
<path d="M675.98 435.2L684.18 435.2L680.08 427.3Z" fill="none" stroke="#0000ff" stroke-width="0.9"/>
<line x1="693.86" y1="436.8" x2="693.86" y2="433.9" stroke="#0000ff" stroke-width="0.9"/>
<line x1="693.86" y1="444.7" x2="693.86" y2="446.5" stroke="#0000ff" stroke-width="0.9"/>
<line x1="689.56" y1="433.9" x2="698.16" y2="433.9" stroke="#0000ff" stroke-width="0.9"/>
<line x1="689.56" y1="446.5" x2="698.16" y2="446.5" stroke="#0000ff" stroke-width="0.9"/>
<path d="M689.76 444.7L697.96 444.7L693.86 436.8Z" fill="none" stroke="#0000ff" stroke-width="0.9"/>
<line x1="707.65" y1="463.4" x2="707.65" y2="460.1" stroke="#0000ff" stroke-width="0.9"/>
<line x1="707.65" y1="471.3" x2="707.65" y2="473.5" stroke="#0000ff" stroke-width="0.9"/>
<line x1="703.35" y1="460.1" x2="711.95" y2="460.1" stroke="#0000ff" stroke-width="0.9"/>
<line x1="703.35" y1="473.5" x2="711.95" y2="473.5" stroke="#0000ff" stroke-width="0.9"/>
<path d="M703.55 471.3L711.75 471.3L707.65 463.4Z" fill="none" stroke="#0000ff" stroke-width="0.9"/>
<line x1="721.43" y1="504.6" x2="721.43" y2="501.5" stroke="#0000ff" stroke-width="0.9"/>
<line x1="721.43" y1="512.5" x2="721.43" y2="514.5" stroke="#0000ff" stroke-width="0.9"/>
<line x1="717.13" y1="501.5" x2="725.73" y2="501.5" stroke="#0000ff" stroke-width="0.9"/>
<line x1="717.13" y1="514.5" x2="725.73" y2="514.5" stroke="#0000ff" stroke-width="0.9"/>
<path d="M717.33 512.5L725.53 512.5L721.43 504.6Z" fill="none" stroke="#0000ff" stroke-width="0.9"/>
<line x1="735.22" y1="543.8" x2="735.22" y2="540.5" stroke="#0000ff" stroke-width="0.9"/>
<line x1="735.22" y1="551.7" x2="735.22" y2="553.9" stroke="#0000ff" stroke-width="0.9"/>
<line x1="730.92" y1="540.5" x2="739.52" y2="540.5" stroke="#0000ff" stroke-width="0.9"/>
<line x1="730.92" y1="553.9" x2="739.52" y2="553.9" stroke="#0000ff" stroke-width="0.9"/>
<path d="M731.12 551.7L739.32 551.7L735.22 543.8Z" fill="none" stroke="#0000ff" stroke-width="0.9"/>
<line x1="749" y1="583.2" x2="749" y2="579.9" stroke="#0000ff" stroke-width="0.9"/>
<line x1="749" y1="591.1" x2="749" y2="593.3" stroke="#0000ff" stroke-width="0.9"/>
<line x1="744.7" y1="579.9" x2="753.3" y2="579.9" stroke="#0000ff" stroke-width="0.9"/>
<line x1="744.7" y1="593.3" x2="753.3" y2="593.3" stroke="#0000ff" stroke-width="0.9"/>
<path d="M744.9 591.1L753.1 591.1L749 583.2Z" fill="none" stroke="#0000ff" stroke-width="0.9"/>
<line x1="762.79" y1="615.9" x2="762.79" y2="612.9" stroke="#0000ff" stroke-width="0.9"/>
<line x1="762.79" y1="623.8" x2="762.79" y2="625.7" stroke="#0000ff" stroke-width="0.9"/>
<line x1="758.49" y1="612.9" x2="767.09" y2="612.9" stroke="#0000ff" stroke-width="0.9"/>
<line x1="758.49" y1="625.7" x2="767.09" y2="625.7" stroke="#0000ff" stroke-width="0.9"/>
<path d="M758.69 623.8L766.89 623.8L762.79 615.9Z" fill="none" stroke="#0000ff" stroke-width="0.9"/>
<line x1="776.57" y1="642.6" x2="776.57" y2="639.5" stroke="#0000ff" stroke-width="0.9"/>
<line x1="776.57" y1="650.5" x2="776.57" y2="652.5" stroke="#0000ff" stroke-width="0.9"/>
<line x1="772.27" y1="639.5" x2="780.87" y2="639.5" stroke="#0000ff" stroke-width="0.9"/>
<line x1="772.27" y1="652.5" x2="780.87" y2="652.5" stroke="#0000ff" stroke-width="0.9"/>
<path d="M772.47 650.5L780.67 650.5L776.57 642.6Z" fill="none" stroke="#0000ff" stroke-width="0.9"/>
<line x1="790.36" y1="664.6" x2="790.36" y2="661.3" stroke="#0000ff" stroke-width="0.9"/>
<line x1="790.36" y1="672.5" x2="790.36" y2="674.7" stroke="#0000ff" stroke-width="0.9"/>
<line x1="786.06" y1="661.3" x2="794.66" y2="661.3" stroke="#0000ff" stroke-width="0.9"/>
<line x1="786.06" y1="674.7" x2="794.66" y2="674.7" stroke="#0000ff" stroke-width="0.9"/>
<path d="M786.26 672.5L794.46 672.5L790.36 664.6Z" fill="none" stroke="#0000ff" stroke-width="0.9"/>
<line x1="804.14" y1="684.5" x2="804.14" y2="680.4" stroke="#0000ff" stroke-width="0.9"/>
<line x1="804.14" y1="692.4" x2="804.14" y2="695.4" stroke="#0000ff" stroke-width="0.9"/>
<line x1="799.84" y1="680.4" x2="808.44" y2="680.4" stroke="#0000ff" stroke-width="0.9"/>
<line x1="799.84" y1="695.4" x2="808.44" y2="695.4" stroke="#0000ff" stroke-width="0.9"/>
<path d="M800.04 692.4L808.24 692.4L804.14 684.5Z" fill="none" stroke="#0000ff" stroke-width="0.9"/>
<line x1="514.66" y1="648.1" x2="514.66" y2="641.7" stroke="#ff0000" stroke-width="0.9"/>
<line x1="514.66" y1="652.1" x2="514.66" y2="658.5" stroke="#ff0000" stroke-width="0.9"/>
<line x1="512.41" y1="641.7" x2="516.91" y2="641.7" stroke="#ff0000" stroke-width="0.9"/>
<line x1="512.41" y1="658.5" x2="516.91" y2="658.5" stroke="#ff0000" stroke-width="0.9"/>
<circle cx="514.66" cy="650.1" r="2.55" fill="#ff0000"/>
<line x1="528.44" y1="636.7" x2="528.44" y2="631.3" stroke="#ff0000" stroke-width="0.9"/>
<line x1="528.44" y1="640.7" x2="528.44" y2="646.1" stroke="#ff0000" stroke-width="0.9"/>
<line x1="526.19" y1="631.3" x2="530.69" y2="631.3" stroke="#ff0000" stroke-width="0.9"/>
<line x1="526.19" y1="646.1" x2="530.69" y2="646.1" stroke="#ff0000" stroke-width="0.9"/>
<circle cx="528.44" cy="638.7" r="2.55" fill="#ff0000"/>
<line x1="542.23" y1="610.8" x2="542.23" y2="605.9" stroke="#ff0000" stroke-width="0.9"/>
<line x1="542.23" y1="614.8" x2="542.23" y2="619.7" stroke="#ff0000" stroke-width="0.9"/>
<line x1="539.98" y1="605.9" x2="544.48" y2="605.9" stroke="#ff0000" stroke-width="0.9"/>
<line x1="539.98" y1="619.7" x2="544.48" y2="619.7" stroke="#ff0000" stroke-width="0.9"/>
<circle cx="542.23" cy="612.8" r="2.55" fill="#ff0000"/>
<line x1="556.01" y1="584" x2="556.01" y2="579.2" stroke="#ff0000" stroke-width="0.9"/>
<line x1="556.01" y1="588" x2="556.01" y2="592.8" stroke="#ff0000" stroke-width="0.9"/>
<line x1="553.76" y1="579.2" x2="558.26" y2="579.2" stroke="#ff0000" stroke-width="0.9"/>
<line x1="553.76" y1="592.8" x2="558.26" y2="592.8" stroke="#ff0000" stroke-width="0.9"/>
<circle cx="556.01" cy="586" r="2.55" fill="#ff0000"/>
<line x1="569.8" y1="550.5" x2="569.8" y2="545.9" stroke="#ff0000" stroke-width="0.9"/>
<line x1="569.8" y1="554.5" x2="569.8" y2="559.1" stroke="#ff0000" stroke-width="0.9"/>
<line x1="567.55" y1="545.9" x2="572.05" y2="545.9" stroke="#ff0000" stroke-width="0.9"/>
<line x1="567.55" y1="559.1" x2="572.05" y2="559.1" stroke="#ff0000" stroke-width="0.9"/>
<circle cx="569.8" cy="552.5" r="2.55" fill="#ff0000"/>
<line x1="583.58" y1="517.2" x2="583.58" y2="512.5" stroke="#ff0000" stroke-width="0.9"/>
<line x1="583.58" y1="521.2" x2="583.58" y2="525.9" stroke="#ff0000" stroke-width="0.9"/>
<line x1="581.33" y1="512.5" x2="585.83" y2="512.5" stroke="#ff0000" stroke-width="0.9"/>
<line x1="581.33" y1="525.9" x2="585.83" y2="525.9" stroke="#ff0000" stroke-width="0.9"/>
<circle cx="583.58" cy="519.2" r="2.55" fill="#ff0000"/>
<line x1="597.37" y1="484.7" x2="597.37" y2="479.9" stroke="#ff0000" stroke-width="0.9"/>
<line x1="597.37" y1="488.7" x2="597.37" y2="493.5" stroke="#ff0000" stroke-width="0.9"/>
<line x1="595.12" y1="479.9" x2="599.62" y2="479.9" stroke="#ff0000" stroke-width="0.9"/>
<line x1="595.12" y1="493.5" x2="599.62" y2="493.5" stroke="#ff0000" stroke-width="0.9"/>
<circle cx="597.37" cy="486.7" r="2.55" fill="#ff0000"/>
<line x1="611.15" y1="466.8" x2="611.15" y2="462.3" stroke="#ff0000" stroke-width="0.9"/>
<line x1="611.15" y1="470.8" x2="611.15" y2="475.3" stroke="#ff0000" stroke-width="0.9"/>
<line x1="608.9" y1="462.3" x2="613.4" y2="462.3" stroke="#ff0000" stroke-width="0.9"/>
<line x1="608.9" y1="475.3" x2="613.4" y2="475.3" stroke="#ff0000" stroke-width="0.9"/>
<circle cx="611.15" cy="468.8" r="2.55" fill="#ff0000"/>
<line x1="624.94" y1="457" x2="624.94" y2="452.5" stroke="#ff0000" stroke-width="0.9"/>
<line x1="624.94" y1="461" x2="624.94" y2="465.5" stroke="#ff0000" stroke-width="0.9"/>
<line x1="622.69" y1="452.5" x2="627.19" y2="452.5" stroke="#ff0000" stroke-width="0.9"/>
<line x1="622.69" y1="465.5" x2="627.19" y2="465.5" stroke="#ff0000" stroke-width="0.9"/>
<circle cx="624.94" cy="459" r="2.55" fill="#ff0000"/>
<line x1="638.72" y1="451.9" x2="638.72" y2="447.5" stroke="#ff0000" stroke-width="0.9"/>
<line x1="638.72" y1="455.9" x2="638.72" y2="460.3" stroke="#ff0000" stroke-width="0.9"/>
<line x1="636.47" y1="447.5" x2="640.97" y2="447.5" stroke="#ff0000" stroke-width="0.9"/>
<line x1="636.47" y1="460.3" x2="640.97" y2="460.3" stroke="#ff0000" stroke-width="0.9"/>
<circle cx="638.72" cy="453.9" r="2.55" fill="#ff0000"/>
<line x1="652.51" y1="451.7" x2="652.51" y2="447.2" stroke="#ff0000" stroke-width="0.9"/>
<line x1="652.51" y1="455.7" x2="652.51" y2="460.2" stroke="#ff0000" stroke-width="0.9"/>
<line x1="650.26" y1="447.2" x2="654.76" y2="447.2" stroke="#ff0000" stroke-width="0.9"/>
<line x1="650.26" y1="460.2" x2="654.76" y2="460.2" stroke="#ff0000" stroke-width="0.9"/>
<circle cx="652.51" cy="453.7" r="2.55" fill="#ff0000"/>
<line x1="666.29" y1="451.7" x2="666.29" y2="447.2" stroke="#ff0000" stroke-width="0.9"/>
<line x1="666.29" y1="455.7" x2="666.29" y2="460.2" stroke="#ff0000" stroke-width="0.9"/>
<line x1="664.04" y1="447.2" x2="668.54" y2="447.2" stroke="#ff0000" stroke-width="0.9"/>
<line x1="664.04" y1="460.2" x2="668.54" y2="460.2" stroke="#ff0000" stroke-width="0.9"/>
<circle cx="666.29" cy="453.7" r="2.55" fill="#ff0000"/>
<line x1="680.08" y1="451.9" x2="680.08" y2="447.5" stroke="#ff0000" stroke-width="0.9"/>
<line x1="680.08" y1="455.9" x2="680.08" y2="460.3" stroke="#ff0000" stroke-width="0.9"/>
<line x1="677.83" y1="447.5" x2="682.33" y2="447.5" stroke="#ff0000" stroke-width="0.9"/>
<line x1="677.83" y1="460.3" x2="682.33" y2="460.3" stroke="#ff0000" stroke-width="0.9"/>
<circle cx="680.08" cy="453.9" r="2.55" fill="#ff0000"/>
<line x1="693.86" y1="457" x2="693.86" y2="452.5" stroke="#ff0000" stroke-width="0.9"/>
<line x1="693.86" y1="461" x2="693.86" y2="465.5" stroke="#ff0000" stroke-width="0.9"/>
<line x1="691.61" y1="452.5" x2="696.11" y2="452.5" stroke="#ff0000" stroke-width="0.9"/>
<line x1="691.61" y1="465.5" x2="696.11" y2="465.5" stroke="#ff0000" stroke-width="0.9"/>
<circle cx="693.86" cy="459" r="2.55" fill="#ff0000"/>
<line x1="707.65" y1="466.8" x2="707.65" y2="462.3" stroke="#ff0000" stroke-width="0.9"/>
<line x1="707.65" y1="470.8" x2="707.65" y2="475.3" stroke="#ff0000" stroke-width="0.9"/>
<line x1="705.4" y1="462.3" x2="709.9" y2="462.3" stroke="#ff0000" stroke-width="0.9"/>
<line x1="705.4" y1="475.3" x2="709.9" y2="475.3" stroke="#ff0000" stroke-width="0.9"/>
<circle cx="707.65" cy="468.8" r="2.55" fill="#ff0000"/>
<line x1="721.43" y1="484.7" x2="721.43" y2="479.9" stroke="#ff0000" stroke-width="0.9"/>
<line x1="721.43" y1="488.7" x2="721.43" y2="493.5" stroke="#ff0000" stroke-width="0.9"/>
<line x1="719.18" y1="479.9" x2="723.68" y2="479.9" stroke="#ff0000" stroke-width="0.9"/>
<line x1="719.18" y1="493.5" x2="723.68" y2="493.5" stroke="#ff0000" stroke-width="0.9"/>
<circle cx="721.43" cy="486.7" r="2.55" fill="#ff0000"/>
<line x1="735.22" y1="517.2" x2="735.22" y2="512.5" stroke="#ff0000" stroke-width="0.9"/>
<line x1="735.22" y1="521.2" x2="735.22" y2="525.9" stroke="#ff0000" stroke-width="0.9"/>
<line x1="732.97" y1="512.5" x2="737.47" y2="512.5" stroke="#ff0000" stroke-width="0.9"/>
<line x1="732.97" y1="525.9" x2="737.47" y2="525.9" stroke="#ff0000" stroke-width="0.9"/>
<circle cx="735.22" cy="519.2" r="2.55" fill="#ff0000"/>
<line x1="749" y1="550.5" x2="749" y2="545.9" stroke="#ff0000" stroke-width="0.9"/>
<line x1="749" y1="554.5" x2="749" y2="559.1" stroke="#ff0000" stroke-width="0.9"/>
<line x1="746.75" y1="545.9" x2="751.25" y2="545.9" stroke="#ff0000" stroke-width="0.9"/>
<line x1="746.75" y1="559.1" x2="751.25" y2="559.1" stroke="#ff0000" stroke-width="0.9"/>
<circle cx="749" cy="552.5" r="2.55" fill="#ff0000"/>
<line x1="762.79" y1="584" x2="762.79" y2="579.2" stroke="#ff0000" stroke-width="0.9"/>
<line x1="762.79" y1="588" x2="762.79" y2="592.8" stroke="#ff0000" stroke-width="0.9"/>
<line x1="760.54" y1="579.2" x2="765.04" y2="579.2" stroke="#ff0000" stroke-width="0.9"/>
<line x1="760.54" y1="592.8" x2="765.04" y2="592.8" stroke="#ff0000" stroke-width="0.9"/>
<circle cx="762.79" cy="586" r="2.55" fill="#ff0000"/>
<line x1="776.57" y1="610.8" x2="776.57" y2="605.9" stroke="#ff0000" stroke-width="0.9"/>
<line x1="776.57" y1="614.8" x2="776.57" y2="619.7" stroke="#ff0000" stroke-width="0.9"/>
<line x1="774.32" y1="605.9" x2="778.82" y2="605.9" stroke="#ff0000" stroke-width="0.9"/>
<line x1="774.32" y1="619.7" x2="778.82" y2="619.7" stroke="#ff0000" stroke-width="0.9"/>
<circle cx="776.57" cy="612.8" r="2.55" fill="#ff0000"/>
<line x1="790.36" y1="636.7" x2="790.36" y2="631.3" stroke="#ff0000" stroke-width="0.9"/>
<line x1="790.36" y1="640.7" x2="790.36" y2="646.1" stroke="#ff0000" stroke-width="0.9"/>
<line x1="788.11" y1="631.3" x2="792.61" y2="631.3" stroke="#ff0000" stroke-width="0.9"/>
<line x1="788.11" y1="646.1" x2="792.61" y2="646.1" stroke="#ff0000" stroke-width="0.9"/>
<circle cx="790.36" cy="638.7" r="2.55" fill="#ff0000"/>
<line x1="804.14" y1="648.1" x2="804.14" y2="641.7" stroke="#ff0000" stroke-width="0.9"/>
<line x1="804.14" y1="652.1" x2="804.14" y2="658.5" stroke="#ff0000" stroke-width="0.9"/>
<line x1="801.89" y1="641.7" x2="806.39" y2="641.7" stroke="#ff0000" stroke-width="0.9"/>
<line x1="801.89" y1="658.5" x2="806.39" y2="658.5" stroke="#ff0000" stroke-width="0.9"/>
<circle cx="804.14" cy="650.1" r="2.55" fill="#ff0000"/>
<line x1="508" y1="486" x2="810.95" y2="486" stroke="#00ff00" stroke-width="1.05"/>
<rect x="508" y="395.4" width="302.95" height="302.5" fill="none" stroke="#000" stroke-width="1.1"/>
<line x1="507.76" y1="697.9" x2="507.76" y2="693.1" stroke="#000" stroke-width="1.1"/>
<line x1="507.76" y1="395.4" x2="507.76" y2="400.2" stroke="#000" stroke-width="1.1"/>
<line x1="521.55" y1="697.9" x2="521.55" y2="693.1" stroke="#000" stroke-width="1.1"/>
<line x1="521.55" y1="395.4" x2="521.55" y2="400.2" stroke="#000" stroke-width="1.1"/>
<line x1="535.34" y1="697.9" x2="535.34" y2="693.1" stroke="#000" stroke-width="1.1"/>
<line x1="535.34" y1="395.4" x2="535.34" y2="400.2" stroke="#000" stroke-width="1.1"/>
<line x1="549.12" y1="697.9" x2="549.12" y2="693.1" stroke="#000" stroke-width="1.1"/>
<line x1="549.12" y1="395.4" x2="549.12" y2="400.2" stroke="#000" stroke-width="1.1"/>
<line x1="562.9" y1="697.9" x2="562.9" y2="693.1" stroke="#000" stroke-width="1.1"/>
<line x1="562.9" y1="395.4" x2="562.9" y2="400.2" stroke="#000" stroke-width="1.1"/>
<line x1="576.69" y1="697.9" x2="576.69" y2="693.1" stroke="#000" stroke-width="1.1"/>
<line x1="576.69" y1="395.4" x2="576.69" y2="400.2" stroke="#000" stroke-width="1.1"/>
<line x1="590.48" y1="697.9" x2="590.48" y2="693.1" stroke="#000" stroke-width="1.1"/>
<line x1="590.48" y1="395.4" x2="590.48" y2="400.2" stroke="#000" stroke-width="1.1"/>
<line x1="604.26" y1="697.9" x2="604.26" y2="693.1" stroke="#000" stroke-width="1.1"/>
<line x1="604.26" y1="395.4" x2="604.26" y2="400.2" stroke="#000" stroke-width="1.1"/>
<line x1="618.04" y1="697.9" x2="618.04" y2="693.1" stroke="#000" stroke-width="1.1"/>
<line x1="618.04" y1="395.4" x2="618.04" y2="400.2" stroke="#000" stroke-width="1.1"/>
<line x1="631.83" y1="697.9" x2="631.83" y2="693.1" stroke="#000" stroke-width="1.1"/>
<line x1="631.83" y1="395.4" x2="631.83" y2="400.2" stroke="#000" stroke-width="1.1"/>
<line x1="645.62" y1="697.9" x2="645.62" y2="693.1" stroke="#000" stroke-width="1.1"/>
<line x1="645.62" y1="395.4" x2="645.62" y2="400.2" stroke="#000" stroke-width="1.1"/>
<line x1="659.4" y1="697.9" x2="659.4" y2="693.1" stroke="#000" stroke-width="1.1"/>
<line x1="659.4" y1="395.4" x2="659.4" y2="400.2" stroke="#000" stroke-width="1.1"/>
<line x1="673.18" y1="697.9" x2="673.18" y2="693.1" stroke="#000" stroke-width="1.1"/>
<line x1="673.18" y1="395.4" x2="673.18" y2="400.2" stroke="#000" stroke-width="1.1"/>
<line x1="686.97" y1="697.9" x2="686.97" y2="693.1" stroke="#000" stroke-width="1.1"/>
<line x1="686.97" y1="395.4" x2="686.97" y2="400.2" stroke="#000" stroke-width="1.1"/>
<line x1="700.75" y1="697.9" x2="700.75" y2="693.1" stroke="#000" stroke-width="1.1"/>
<line x1="700.75" y1="395.4" x2="700.75" y2="400.2" stroke="#000" stroke-width="1.1"/>
<line x1="714.54" y1="697.9" x2="714.54" y2="693.1" stroke="#000" stroke-width="1.1"/>
<line x1="714.54" y1="395.4" x2="714.54" y2="400.2" stroke="#000" stroke-width="1.1"/>
<line x1="728.32" y1="697.9" x2="728.32" y2="693.1" stroke="#000" stroke-width="1.1"/>
<line x1="728.32" y1="395.4" x2="728.32" y2="400.2" stroke="#000" stroke-width="1.1"/>
<line x1="742.11" y1="697.9" x2="742.11" y2="693.1" stroke="#000" stroke-width="1.1"/>
<line x1="742.11" y1="395.4" x2="742.11" y2="400.2" stroke="#000" stroke-width="1.1"/>
<line x1="755.89" y1="697.9" x2="755.89" y2="693.1" stroke="#000" stroke-width="1.1"/>
<line x1="755.89" y1="395.4" x2="755.89" y2="400.2" stroke="#000" stroke-width="1.1"/>
<line x1="769.68" y1="697.9" x2="769.68" y2="693.1" stroke="#000" stroke-width="1.1"/>
<line x1="769.68" y1="395.4" x2="769.68" y2="400.2" stroke="#000" stroke-width="1.1"/>
<line x1="783.46" y1="697.9" x2="783.46" y2="693.1" stroke="#000" stroke-width="1.1"/>
<line x1="783.46" y1="395.4" x2="783.46" y2="400.2" stroke="#000" stroke-width="1.1"/>
<line x1="797.25" y1="697.9" x2="797.25" y2="693.1" stroke="#000" stroke-width="1.1"/>
<line x1="797.25" y1="395.4" x2="797.25" y2="400.2" stroke="#000" stroke-width="1.1"/>
<line x1="811.03" y1="697.9" x2="811.03" y2="693.1" stroke="#000" stroke-width="1.1"/>
<line x1="811.03" y1="395.4" x2="811.03" y2="400.2" stroke="#000" stroke-width="1.1"/>
<line x1="521.55" y1="697.9" x2="521.55" y2="688.1" stroke="#000" stroke-width="1.1"/>
<line x1="521.55" y1="395.4" x2="521.55" y2="405.2" stroke="#000" stroke-width="1.1"/>
<text x="521.55" y="719" fill="#000" font-size="19.5" text-anchor="middle">-1.0</text>
<line x1="590.48" y1="697.9" x2="590.48" y2="688.1" stroke="#000" stroke-width="1.1"/>
<line x1="590.48" y1="395.4" x2="590.48" y2="405.2" stroke="#000" stroke-width="1.1"/>
<text x="590.48" y="719" fill="#000" font-size="19.5" text-anchor="middle">-0.5</text>
<line x1="659.4" y1="697.9" x2="659.4" y2="688.1" stroke="#000" stroke-width="1.1"/>
<line x1="659.4" y1="395.4" x2="659.4" y2="405.2" stroke="#000" stroke-width="1.1"/>
<text x="659.4" y="719" fill="#000" font-size="19.5" text-anchor="middle">0.0</text>
<line x1="728.32" y1="697.9" x2="728.32" y2="688.1" stroke="#000" stroke-width="1.1"/>
<line x1="728.32" y1="395.4" x2="728.32" y2="405.2" stroke="#000" stroke-width="1.1"/>
<text x="728.32" y="719" fill="#000" font-size="19.5" text-anchor="middle">0.5</text>
<line x1="797.25" y1="697.9" x2="797.25" y2="688.1" stroke="#000" stroke-width="1.1"/>
<line x1="797.25" y1="395.4" x2="797.25" y2="405.2" stroke="#000" stroke-width="1.1"/>
<text x="797.25" y="719" fill="#000" font-size="19.5" text-anchor="middle">1.0</text>
<line x1="508" y1="697.75" x2="512.8" y2="697.75" stroke="#000" stroke-width="1.1"/>
<line x1="810.95" y1="697.75" x2="806.15" y2="697.75" stroke="#000" stroke-width="1.1"/>
<line x1="508" y1="667.5" x2="512.8" y2="667.5" stroke="#000" stroke-width="1.1"/>
<line x1="810.95" y1="667.5" x2="806.15" y2="667.5" stroke="#000" stroke-width="1.1"/>
<line x1="508" y1="637.25" x2="512.8" y2="637.25" stroke="#000" stroke-width="1.1"/>
<line x1="810.95" y1="637.25" x2="806.15" y2="637.25" stroke="#000" stroke-width="1.1"/>
<line x1="508" y1="607" x2="512.8" y2="607" stroke="#000" stroke-width="1.1"/>
<line x1="810.95" y1="607" x2="806.15" y2="607" stroke="#000" stroke-width="1.1"/>
<line x1="508" y1="576.75" x2="512.8" y2="576.75" stroke="#000" stroke-width="1.1"/>
<line x1="810.95" y1="576.75" x2="806.15" y2="576.75" stroke="#000" stroke-width="1.1"/>
<line x1="508" y1="546.5" x2="512.8" y2="546.5" stroke="#000" stroke-width="1.1"/>
<line x1="810.95" y1="546.5" x2="806.15" y2="546.5" stroke="#000" stroke-width="1.1"/>
<line x1="508" y1="516.25" x2="512.8" y2="516.25" stroke="#000" stroke-width="1.1"/>
<line x1="810.95" y1="516.25" x2="806.15" y2="516.25" stroke="#000" stroke-width="1.1"/>
<line x1="508" y1="486" x2="512.8" y2="486" stroke="#000" stroke-width="1.1"/>
<line x1="810.95" y1="486" x2="806.15" y2="486" stroke="#000" stroke-width="1.1"/>
<line x1="508" y1="455.75" x2="512.8" y2="455.75" stroke="#000" stroke-width="1.1"/>
<line x1="810.95" y1="455.75" x2="806.15" y2="455.75" stroke="#000" stroke-width="1.1"/>
<line x1="508" y1="425.5" x2="512.8" y2="425.5" stroke="#000" stroke-width="1.1"/>
<line x1="810.95" y1="425.5" x2="806.15" y2="425.5" stroke="#000" stroke-width="1.1"/>
<line x1="508" y1="395.25" x2="512.8" y2="395.25" stroke="#000" stroke-width="1.1"/>
<line x1="810.95" y1="395.25" x2="806.15" y2="395.25" stroke="#000" stroke-width="1.1"/>
<line x1="508" y1="667.5" x2="517.8" y2="667.5" stroke="#000" stroke-width="1.1"/>
<line x1="810.95" y1="667.5" x2="801.15" y2="667.5" stroke="#000" stroke-width="1.1"/>
<text x="500.4" y="674.7" fill="#000" font-size="19.5" text-anchor="end">-0.3</text>
<line x1="508" y1="607" x2="517.8" y2="607" stroke="#000" stroke-width="1.1"/>
<line x1="810.95" y1="607" x2="801.15" y2="607" stroke="#000" stroke-width="1.1"/>
<text x="500.4" y="614.2" fill="#000" font-size="19.5" text-anchor="end">-0.2</text>
<line x1="508" y1="546.5" x2="517.8" y2="546.5" stroke="#000" stroke-width="1.1"/>
<line x1="810.95" y1="546.5" x2="801.15" y2="546.5" stroke="#000" stroke-width="1.1"/>
<text x="500.4" y="553.7" fill="#000" font-size="19.5" text-anchor="end">-0.1</text>
<line x1="508" y1="486" x2="517.8" y2="486" stroke="#000" stroke-width="1.1"/>
<line x1="810.95" y1="486" x2="801.15" y2="486" stroke="#000" stroke-width="1.1"/>
<text x="500.4" y="493.2" fill="#000" font-size="19.5" text-anchor="end">0.0</text>
<line x1="508" y1="425.5" x2="517.8" y2="425.5" stroke="#000" stroke-width="1.1"/>
<line x1="810.95" y1="425.5" x2="801.15" y2="425.5" stroke="#000" stroke-width="1.1"/>
<text x="500.4" y="432.7" fill="#000" font-size="19.5" text-anchor="end">0.1</text>
<text x="523.8" y="431.8" fill="#000" font-size="19.5" text-anchor="start">Au+Au</text>
<text x="720.2" y="431.8" fill="#000" font-size="19.5" text-anchor="start">1.5A GeV</text>
<path fill="#0000ff" fill-rule="evenodd" d="M231.3 637.6L236.55 624.7L237.9 624.7L243 637.6Z M232.9 636.5L240.4 636.5L236.35 627.4Z"/>
<text x="247.7" y="627.4" fill="#0000ff" font-size="14.0" text-anchor="start">3</text>
<text x="255.5" y="637.3" fill="#0000ff" font-size="19.5" text-anchor="start">H</text>
<circle cx="232" cy="654.8" r="7" fill="#ff0000"/>
<text x="244.5" y="651.8" fill="#ff0000" font-size="14.0" text-anchor="start">3</text>
<text x="252" y="661.6" fill="#ff0000" font-size="19.5" text-anchor="start">He</text>
<text x="242" y="748.1" fill="#000" font-size="19.5" text-anchor="start">y</text>
<text x="251.5" y="754" fill="#000" font-size="14.0" text-anchor="start">0</text>
<g transform="translate(45 558.5) rotate(-90)">
<text x="0" y="0" fill="#000" font-size="19.5" text-anchor="start">-v</text>
<text x="16.4" y="6.9" fill="#000" font-size="14.0" text-anchor="start">2</text>
</g>
<path fill="#0000ff" fill-rule="evenodd" d="M640.1 637.6L645.35 624.7L646.7 624.7L651.8 637.6Z M641.7 636.5L649.2 636.5L645.15 627.4Z"/>
<text x="656.5" y="627.4" fill="#0000ff" font-size="14.0" text-anchor="start">3</text>
<text x="664.3" y="637.3" fill="#0000ff" font-size="19.5" text-anchor="start">H</text>
<circle cx="640.8" cy="654.8" r="7" fill="#ff0000"/>
<text x="653.3" y="651.8" fill="#ff0000" font-size="14.0" text-anchor="start">3</text>
<text x="660.8" y="661.6" fill="#ff0000" font-size="19.5" text-anchor="start">He</text>
<text x="650.8" y="748.1" fill="#000" font-size="19.5" text-anchor="start">y</text>
<text x="660.3" y="754" fill="#000" font-size="14.0" text-anchor="start">0</text>
<g transform="translate(444 558.5) rotate(-90)">
<text x="0" y="0" fill="#000" font-size="19.5" text-anchor="start">-v</text>
<text x="16.4" y="6.9" fill="#000" font-size="14.0" text-anchor="start">2</text>
</g>
<path d="M124.1 896 C140 887 155 878.5 170.1 870.6 S200 856 216.1 849.4 S250 835.2 262.1 830.3 S295 817.3 308.1 812.5 S355 796 377.1 788.6" fill="none" stroke="#0000ff" stroke-width="0.9"/>
<path d="M124.1 896 C138 890.5 154 885.5 170.1 882.6 S200 878.7 216.1 877.8 S248 876.3 262.1 876 S295 875 308.1 875 S355 875.6 377.1 876.1" fill="none" stroke="#ff0000" stroke-width="0.9"/>
<line x1="124.1" y1="892.3" x2="124.1" y2="888" stroke="#0000ff" stroke-width="0.9"/>
<line x1="124.1" y1="900.2" x2="124.1" y2="903.4" stroke="#0000ff" stroke-width="0.9"/>
<line x1="119.8" y1="888" x2="128.4" y2="888" stroke="#0000ff" stroke-width="0.9"/>
<line x1="119.8" y1="903.4" x2="128.4" y2="903.4" stroke="#0000ff" stroke-width="0.9"/>
<path d="M120 900.2L128.2 900.2L124.1 892.3Z" fill="none" stroke="#0000ff" stroke-width="0.9"/>
<line x1="170.1" y1="863.9" x2="170.1" y2="859.4" stroke="#0000ff" stroke-width="0.9"/>
<line x1="170.1" y1="871.8" x2="170.1" y2="875.2" stroke="#0000ff" stroke-width="0.9"/>
<line x1="165.8" y1="859.4" x2="174.4" y2="859.4" stroke="#0000ff" stroke-width="0.9"/>
<line x1="165.8" y1="875.2" x2="174.4" y2="875.2" stroke="#0000ff" stroke-width="0.9"/>
<path d="M166 871.8L174.2 871.8L170.1 863.9Z" fill="none" stroke="#0000ff" stroke-width="0.9"/>
<line x1="216.1" y1="853" x2="216.1" y2="848.6" stroke="#0000ff" stroke-width="0.9"/>
<line x1="216.1" y1="860.9" x2="216.1" y2="864.2" stroke="#0000ff" stroke-width="0.9"/>
<line x1="211.8" y1="848.6" x2="220.4" y2="848.6" stroke="#0000ff" stroke-width="0.9"/>
<line x1="211.8" y1="864.2" x2="220.4" y2="864.2" stroke="#0000ff" stroke-width="0.9"/>
<path d="M212 860.9L220.2 860.9L216.1 853Z" fill="none" stroke="#0000ff" stroke-width="0.9"/>
<line x1="262.1" y1="824.8" x2="262.1" y2="820.2" stroke="#0000ff" stroke-width="0.9"/>
<line x1="262.1" y1="832.7" x2="262.1" y2="836.2" stroke="#0000ff" stroke-width="0.9"/>
<line x1="257.8" y1="820.2" x2="266.4" y2="820.2" stroke="#0000ff" stroke-width="0.9"/>
<line x1="257.8" y1="836.2" x2="266.4" y2="836.2" stroke="#0000ff" stroke-width="0.9"/>
<path d="M258 832.7L266.2 832.7L262.1 824.8Z" fill="none" stroke="#0000ff" stroke-width="0.9"/>
<line x1="308.1" y1="808" x2="308.1" y2="803.6" stroke="#0000ff" stroke-width="0.9"/>
<line x1="308.1" y1="815.9" x2="308.1" y2="819.2" stroke="#0000ff" stroke-width="0.9"/>
<line x1="303.8" y1="803.6" x2="312.4" y2="803.6" stroke="#0000ff" stroke-width="0.9"/>
<line x1="303.8" y1="819.2" x2="312.4" y2="819.2" stroke="#0000ff" stroke-width="0.9"/>
<path d="M304 815.9L312.2 815.9L308.1 808Z" fill="none" stroke="#0000ff" stroke-width="0.9"/>
<line x1="377.1" y1="786.7" x2="377.1" y2="782.1" stroke="#0000ff" stroke-width="0.9"/>
<line x1="377.1" y1="794.6" x2="377.1" y2="798.1" stroke="#0000ff" stroke-width="0.9"/>
<line x1="372.8" y1="782.1" x2="381.4" y2="782.1" stroke="#0000ff" stroke-width="0.9"/>
<line x1="372.8" y1="798.1" x2="381.4" y2="798.1" stroke="#0000ff" stroke-width="0.9"/>
<path d="M373 794.6L381.2 794.6L377.1 786.7Z" fill="none" stroke="#0000ff" stroke-width="0.9"/>
<line x1="124.1" y1="893.8" x2="124.1" y2="888" stroke="#ff0000" stroke-width="0.9"/>
<line x1="124.1" y1="897.8" x2="124.1" y2="903.6" stroke="#ff0000" stroke-width="0.9"/>
<line x1="121.85" y1="888" x2="126.35" y2="888" stroke="#ff0000" stroke-width="0.9"/>
<line x1="121.85" y1="903.6" x2="126.35" y2="903.6" stroke="#ff0000" stroke-width="0.9"/>
<circle cx="124.1" cy="895.8" r="2.55" fill="#ff0000"/>
<line x1="170.1" y1="878" x2="170.1" y2="871.9" stroke="#ff0000" stroke-width="0.9"/>
<line x1="170.1" y1="882" x2="170.1" y2="888.1" stroke="#ff0000" stroke-width="0.9"/>
<line x1="167.85" y1="871.9" x2="172.35" y2="871.9" stroke="#ff0000" stroke-width="0.9"/>
<line x1="167.85" y1="888.1" x2="172.35" y2="888.1" stroke="#ff0000" stroke-width="0.9"/>
<circle cx="170.1" cy="880" r="2.55" fill="#ff0000"/>
<line x1="216.1" y1="876.3" x2="216.1" y2="870.4" stroke="#ff0000" stroke-width="0.9"/>
<line x1="216.1" y1="880.3" x2="216.1" y2="886.2" stroke="#ff0000" stroke-width="0.9"/>
<line x1="213.85" y1="870.4" x2="218.35" y2="870.4" stroke="#ff0000" stroke-width="0.9"/>
<line x1="213.85" y1="886.2" x2="218.35" y2="886.2" stroke="#ff0000" stroke-width="0.9"/>
<circle cx="216.1" cy="878.3" r="2.55" fill="#ff0000"/>
<line x1="262.1" y1="878.6" x2="262.1" y2="872.7" stroke="#ff0000" stroke-width="0.9"/>
<line x1="262.1" y1="882.6" x2="262.1" y2="888.5" stroke="#ff0000" stroke-width="0.9"/>
<line x1="259.85" y1="872.7" x2="264.35" y2="872.7" stroke="#ff0000" stroke-width="0.9"/>
<line x1="259.85" y1="888.5" x2="264.35" y2="888.5" stroke="#ff0000" stroke-width="0.9"/>
<circle cx="262.1" cy="880.6" r="2.55" fill="#ff0000"/>
<line x1="308.1" y1="870.3" x2="308.1" y2="864.3" stroke="#ff0000" stroke-width="0.9"/>
<line x1="308.1" y1="874.3" x2="308.1" y2="880.3" stroke="#ff0000" stroke-width="0.9"/>
<line x1="305.85" y1="864.3" x2="310.35" y2="864.3" stroke="#ff0000" stroke-width="0.9"/>
<line x1="305.85" y1="880.3" x2="310.35" y2="880.3" stroke="#ff0000" stroke-width="0.9"/>
<circle cx="308.1" cy="872.3" r="2.55" fill="#ff0000"/>
<line x1="377.1" y1="874.2" x2="377.1" y2="868.2" stroke="#ff0000" stroke-width="0.9"/>
<line x1="377.1" y1="878.2" x2="377.1" y2="884.2" stroke="#ff0000" stroke-width="0.9"/>
<line x1="374.85" y1="868.2" x2="379.35" y2="868.2" stroke="#ff0000" stroke-width="0.9"/>
<line x1="374.85" y1="884.2" x2="379.35" y2="884.2" stroke="#ff0000" stroke-width="0.9"/>
<circle cx="377.1" cy="876.2" r="2.55" fill="#ff0000"/>
<rect x="99.1" y="761.5" width="302.65" height="303" fill="none" stroke="#000" stroke-width="1.1"/>
<line x1="101.1" y1="1064.5" x2="101.1" y2="1059.7" stroke="#000" stroke-width="1.1"/>
<line x1="101.1" y1="761.5" x2="101.1" y2="766.3" stroke="#000" stroke-width="1.1"/>
<line x1="124.1" y1="1064.5" x2="124.1" y2="1059.7" stroke="#000" stroke-width="1.1"/>
<line x1="124.1" y1="761.5" x2="124.1" y2="766.3" stroke="#000" stroke-width="1.1"/>
<line x1="147.1" y1="1064.5" x2="147.1" y2="1059.7" stroke="#000" stroke-width="1.1"/>
<line x1="147.1" y1="761.5" x2="147.1" y2="766.3" stroke="#000" stroke-width="1.1"/>
<line x1="170.1" y1="1064.5" x2="170.1" y2="1059.7" stroke="#000" stroke-width="1.1"/>
<line x1="170.1" y1="761.5" x2="170.1" y2="766.3" stroke="#000" stroke-width="1.1"/>
<line x1="193.1" y1="1064.5" x2="193.1" y2="1059.7" stroke="#000" stroke-width="1.1"/>
<line x1="193.1" y1="761.5" x2="193.1" y2="766.3" stroke="#000" stroke-width="1.1"/>
<line x1="216.1" y1="1064.5" x2="216.1" y2="1059.7" stroke="#000" stroke-width="1.1"/>
<line x1="216.1" y1="761.5" x2="216.1" y2="766.3" stroke="#000" stroke-width="1.1"/>
<line x1="239.1" y1="1064.5" x2="239.1" y2="1059.7" stroke="#000" stroke-width="1.1"/>
<line x1="239.1" y1="761.5" x2="239.1" y2="766.3" stroke="#000" stroke-width="1.1"/>
<line x1="262.1" y1="1064.5" x2="262.1" y2="1059.7" stroke="#000" stroke-width="1.1"/>
<line x1="262.1" y1="761.5" x2="262.1" y2="766.3" stroke="#000" stroke-width="1.1"/>
<line x1="285.1" y1="1064.5" x2="285.1" y2="1059.7" stroke="#000" stroke-width="1.1"/>
<line x1="285.1" y1="761.5" x2="285.1" y2="766.3" stroke="#000" stroke-width="1.1"/>
<line x1="308.1" y1="1064.5" x2="308.1" y2="1059.7" stroke="#000" stroke-width="1.1"/>
<line x1="308.1" y1="761.5" x2="308.1" y2="766.3" stroke="#000" stroke-width="1.1"/>
<line x1="331.1" y1="1064.5" x2="331.1" y2="1059.7" stroke="#000" stroke-width="1.1"/>
<line x1="331.1" y1="761.5" x2="331.1" y2="766.3" stroke="#000" stroke-width="1.1"/>
<line x1="354.1" y1="1064.5" x2="354.1" y2="1059.7" stroke="#000" stroke-width="1.1"/>
<line x1="354.1" y1="761.5" x2="354.1" y2="766.3" stroke="#000" stroke-width="1.1"/>
<line x1="377.1" y1="1064.5" x2="377.1" y2="1059.7" stroke="#000" stroke-width="1.1"/>
<line x1="377.1" y1="761.5" x2="377.1" y2="766.3" stroke="#000" stroke-width="1.1"/>
<line x1="400.1" y1="1064.5" x2="400.1" y2="1059.7" stroke="#000" stroke-width="1.1"/>
<line x1="400.1" y1="761.5" x2="400.1" y2="766.3" stroke="#000" stroke-width="1.1"/>
<line x1="124.1" y1="1064.5" x2="124.1" y2="1054.7" stroke="#000" stroke-width="1.1"/>
<line x1="124.1" y1="761.5" x2="124.1" y2="771.3" stroke="#000" stroke-width="1.1"/>
<text x="124.1" y="1085.6" fill="#000" font-size="19.5" text-anchor="middle">0.4</text>
<line x1="170.1" y1="1064.5" x2="170.1" y2="1054.7" stroke="#000" stroke-width="1.1"/>
<line x1="170.1" y1="761.5" x2="170.1" y2="771.3" stroke="#000" stroke-width="1.1"/>
<text x="170.1" y="1085.6" fill="#000" font-size="19.5" text-anchor="middle">0.6</text>
<line x1="216.1" y1="1064.5" x2="216.1" y2="1054.7" stroke="#000" stroke-width="1.1"/>
<line x1="216.1" y1="761.5" x2="216.1" y2="771.3" stroke="#000" stroke-width="1.1"/>
<text x="216.1" y="1085.6" fill="#000" font-size="19.5" text-anchor="middle">0.8</text>
<line x1="262.1" y1="1064.5" x2="262.1" y2="1054.7" stroke="#000" stroke-width="1.1"/>
<line x1="262.1" y1="761.5" x2="262.1" y2="771.3" stroke="#000" stroke-width="1.1"/>
<text x="262.1" y="1085.6" fill="#000" font-size="19.5" text-anchor="middle">1.0</text>
<line x1="308.1" y1="1064.5" x2="308.1" y2="1054.7" stroke="#000" stroke-width="1.1"/>
<line x1="308.1" y1="761.5" x2="308.1" y2="771.3" stroke="#000" stroke-width="1.1"/>
<text x="308.1" y="1085.6" fill="#000" font-size="19.5" text-anchor="middle">1.2</text>
<line x1="354.1" y1="1064.5" x2="354.1" y2="1054.7" stroke="#000" stroke-width="1.1"/>
<line x1="354.1" y1="761.5" x2="354.1" y2="771.3" stroke="#000" stroke-width="1.1"/>
<text x="354.1" y="1085.6" fill="#000" font-size="19.5" text-anchor="middle">1.4</text>
<line x1="400.1" y1="1064.5" x2="400.1" y2="1054.7" stroke="#000" stroke-width="1.1"/>
<line x1="400.1" y1="761.5" x2="400.1" y2="771.3" stroke="#000" stroke-width="1.1"/>
<text x="400.1" y="1085.6" fill="#000" font-size="19.5" text-anchor="middle">1.6</text>
<line x1="99.1" y1="1064.4" x2="103.9" y2="1064.4" stroke="#000" stroke-width="1.1"/>
<line x1="401.75" y1="1064.4" x2="396.95" y2="1064.4" stroke="#000" stroke-width="1.1"/>
<line x1="99.1" y1="1024.81" x2="103.9" y2="1024.81" stroke="#000" stroke-width="1.1"/>
<line x1="401.75" y1="1024.81" x2="396.95" y2="1024.81" stroke="#000" stroke-width="1.1"/>
<line x1="99.1" y1="985.22" x2="103.9" y2="985.22" stroke="#000" stroke-width="1.1"/>
<line x1="401.75" y1="985.22" x2="396.95" y2="985.22" stroke="#000" stroke-width="1.1"/>
<line x1="99.1" y1="945.63" x2="103.9" y2="945.63" stroke="#000" stroke-width="1.1"/>
<line x1="401.75" y1="945.63" x2="396.95" y2="945.63" stroke="#000" stroke-width="1.1"/>
<line x1="99.1" y1="906.04" x2="103.9" y2="906.04" stroke="#000" stroke-width="1.1"/>
<line x1="401.75" y1="906.04" x2="396.95" y2="906.04" stroke="#000" stroke-width="1.1"/>
<line x1="99.1" y1="866.45" x2="103.9" y2="866.45" stroke="#000" stroke-width="1.1"/>
<line x1="401.75" y1="866.45" x2="396.95" y2="866.45" stroke="#000" stroke-width="1.1"/>
<line x1="99.1" y1="826.86" x2="103.9" y2="826.86" stroke="#000" stroke-width="1.1"/>
<line x1="401.75" y1="826.86" x2="396.95" y2="826.86" stroke="#000" stroke-width="1.1"/>
<line x1="99.1" y1="787.27" x2="103.9" y2="787.27" stroke="#000" stroke-width="1.1"/>
<line x1="401.75" y1="787.27" x2="396.95" y2="787.27" stroke="#000" stroke-width="1.1"/>
<line x1="99.1" y1="985.22" x2="108.9" y2="985.22" stroke="#000" stroke-width="1.1"/>
<line x1="401.75" y1="985.22" x2="391.95" y2="985.22" stroke="#000" stroke-width="1.1"/>
<text x="91.5" y="992.42" fill="#000" font-size="19.5" text-anchor="end">0.2</text>
<line x1="99.1" y1="906.04" x2="108.9" y2="906.04" stroke="#000" stroke-width="1.1"/>
<line x1="401.75" y1="906.04" x2="391.95" y2="906.04" stroke="#000" stroke-width="1.1"/>
<text x="91.5" y="913.24" fill="#000" font-size="19.5" text-anchor="end">0.4</text>
<line x1="99.1" y1="826.86" x2="108.9" y2="826.86" stroke="#000" stroke-width="1.1"/>
<line x1="401.75" y1="826.86" x2="391.95" y2="826.86" stroke="#000" stroke-width="1.1"/>
<text x="91.5" y="834.06" fill="#000" font-size="19.5" text-anchor="end">0.6</text>
<text x="114.3" y="797.6" fill="#ff00ff" font-size="19.5" text-anchor="start">expo 0 2 w0.8</text>
<path fill="#0000ff" fill-rule="evenodd" d="M230.2 1004.2L235.2 991.7L236.55 991.7L241.4 1004.2Z M231.8 1003.1L238.8 1003.1L235 994.4Z"/>
<text x="246.4" y="1003.9" fill="#0000ff" font-size="19.5" text-anchor="start">3H</text>
<circle cx="229.4" cy="1021.6" r="6.9" fill="#ff0000"/>
<text x="243.1" y="1027.8" fill="#ff0000" font-size="19.5" text-anchor="start">3He</text>
<text x="250.4" y="1113.4" fill="#000" font-size="19.5" text-anchor="middle">beam enery (A GeV)</text>
<g transform="translate(45 925.2) rotate(-90)">
<text x="0" y="0" fill="#000" font-size="19.5" text-anchor="start">v</text>
<text x="10.1" y="6.9" fill="#000" font-size="14.0" text-anchor="start">2n</text>
</g>
<polyline points="563.2,909.0 599.9,876.0 706.6,802.0 784.5,805.0" fill="none" stroke="#0000ff" stroke-width="0.9"/>
<polyline points="563.2,899.1 599.9,890.5 706.6,884.7 784.5,893.7" fill="none" stroke="#ff0000" stroke-width="0.9"/>
<line x1="563.2" y1="905.6" x2="563.2" y2="901.6" stroke="#0000ff" stroke-width="0.9"/>
<line x1="563.2" y1="913.5" x2="563.2" y2="916.4" stroke="#0000ff" stroke-width="0.9"/>
<line x1="558.9" y1="901.6" x2="567.5" y2="901.6" stroke="#0000ff" stroke-width="0.9"/>
<line x1="558.9" y1="916.4" x2="567.5" y2="916.4" stroke="#0000ff" stroke-width="0.9"/>
<path d="M559.1 913.5L567.3 913.5L563.2 905.6Z" fill="none" stroke="#0000ff" stroke-width="0.9"/>
<line x1="599.9" y1="872.6" x2="599.9" y2="870.5" stroke="#0000ff" stroke-width="0.9"/>
<line x1="599.9" y1="880.5" x2="599.9" y2="881.5" stroke="#0000ff" stroke-width="0.9"/>
<line x1="595.6" y1="870.5" x2="604.2" y2="870.5" stroke="#0000ff" stroke-width="0.9"/>
<line x1="595.6" y1="881.5" x2="604.2" y2="881.5" stroke="#0000ff" stroke-width="0.9"/>
<path d="M595.8 880.5L604 880.5L599.9 872.6Z" fill="none" stroke="#0000ff" stroke-width="0.9"/>
<line x1="706.6" y1="798.6" x2="706.6" y2="796.7" stroke="#0000ff" stroke-width="0.9"/>
<line x1="706.6" y1="806.5" x2="706.6" y2="807.3" stroke="#0000ff" stroke-width="0.9"/>
<line x1="702.3" y1="796.7" x2="710.9" y2="796.7" stroke="#0000ff" stroke-width="0.9"/>
<line x1="702.3" y1="807.3" x2="710.9" y2="807.3" stroke="#0000ff" stroke-width="0.9"/>
<path d="M702.5 806.5L710.7 806.5L706.6 798.6Z" fill="none" stroke="#0000ff" stroke-width="0.9"/>
<line x1="784.5" y1="801.6" x2="784.5" y2="798.5" stroke="#0000ff" stroke-width="0.9"/>
<line x1="784.5" y1="809.5" x2="784.5" y2="811.5" stroke="#0000ff" stroke-width="0.9"/>
<line x1="780.2" y1="798.5" x2="788.8" y2="798.5" stroke="#0000ff" stroke-width="0.9"/>
<line x1="780.2" y1="811.5" x2="788.8" y2="811.5" stroke="#0000ff" stroke-width="0.9"/>
<path d="M780.4 809.5L788.6 809.5L784.5 801.6Z" fill="none" stroke="#0000ff" stroke-width="0.9"/>
<line x1="563.2" y1="897.1" x2="563.2" y2="890.3" stroke="#ff0000" stroke-width="0.9"/>
<line x1="563.2" y1="901.1" x2="563.2" y2="907.9" stroke="#ff0000" stroke-width="0.9"/>
<line x1="560.95" y1="890.3" x2="565.45" y2="890.3" stroke="#ff0000" stroke-width="0.9"/>
<line x1="560.95" y1="907.9" x2="565.45" y2="907.9" stroke="#ff0000" stroke-width="0.9"/>
<circle cx="563.2" cy="899.1" r="2.55" fill="#ff0000"/>
<line x1="599.9" y1="888.5" x2="599.9" y2="884.5" stroke="#ff0000" stroke-width="0.9"/>
<line x1="599.9" y1="892.5" x2="599.9" y2="896.5" stroke="#ff0000" stroke-width="0.9"/>
<line x1="597.65" y1="884.5" x2="602.15" y2="884.5" stroke="#ff0000" stroke-width="0.9"/>
<line x1="597.65" y1="896.5" x2="602.15" y2="896.5" stroke="#ff0000" stroke-width="0.9"/>
<circle cx="599.9" cy="890.5" r="2.55" fill="#ff0000"/>
<line x1="706.6" y1="882.7" x2="706.6" y2="879.4" stroke="#ff0000" stroke-width="0.9"/>
<line x1="706.6" y1="886.7" x2="706.6" y2="890" stroke="#ff0000" stroke-width="0.9"/>
<line x1="704.35" y1="879.4" x2="708.85" y2="879.4" stroke="#ff0000" stroke-width="0.9"/>
<line x1="704.35" y1="890" x2="708.85" y2="890" stroke="#ff0000" stroke-width="0.9"/>
<circle cx="706.6" cy="884.7" r="2.55" fill="#ff0000"/>
<line x1="784.5" y1="891.7" x2="784.5" y2="886.7" stroke="#ff0000" stroke-width="0.9"/>
<line x1="784.5" y1="895.7" x2="784.5" y2="900.7" stroke="#ff0000" stroke-width="0.9"/>
<line x1="782.25" y1="886.7" x2="786.75" y2="886.7" stroke="#ff0000" stroke-width="0.9"/>
<line x1="782.25" y1="900.7" x2="786.75" y2="900.7" stroke="#ff0000" stroke-width="0.9"/>
<circle cx="784.5" cy="893.7" r="2.55" fill="#ff0000"/>
<rect x="508" y="761.5" width="302.95" height="303" fill="none" stroke="#000" stroke-width="1.1"/>
<line x1="508" y1="1064.5" x2="508" y2="1059.7" stroke="#000" stroke-width="1.1"/>
<line x1="508" y1="761.5" x2="508" y2="766.3" stroke="#000" stroke-width="1.1"/>
<line x1="535.55" y1="1064.5" x2="535.55" y2="1059.7" stroke="#000" stroke-width="1.1"/>
<line x1="535.55" y1="761.5" x2="535.55" y2="766.3" stroke="#000" stroke-width="1.1"/>
<line x1="563.1" y1="1064.5" x2="563.1" y2="1059.7" stroke="#000" stroke-width="1.1"/>
<line x1="563.1" y1="761.5" x2="563.1" y2="766.3" stroke="#000" stroke-width="1.1"/>
<line x1="590.65" y1="1064.5" x2="590.65" y2="1059.7" stroke="#000" stroke-width="1.1"/>
<line x1="590.65" y1="761.5" x2="590.65" y2="766.3" stroke="#000" stroke-width="1.1"/>
<line x1="618.2" y1="1064.5" x2="618.2" y2="1059.7" stroke="#000" stroke-width="1.1"/>
<line x1="618.2" y1="761.5" x2="618.2" y2="766.3" stroke="#000" stroke-width="1.1"/>
<line x1="645.75" y1="1064.5" x2="645.75" y2="1059.7" stroke="#000" stroke-width="1.1"/>
<line x1="645.75" y1="761.5" x2="645.75" y2="766.3" stroke="#000" stroke-width="1.1"/>
<line x1="673.3" y1="1064.5" x2="673.3" y2="1059.7" stroke="#000" stroke-width="1.1"/>
<line x1="673.3" y1="761.5" x2="673.3" y2="766.3" stroke="#000" stroke-width="1.1"/>
<line x1="700.85" y1="1064.5" x2="700.85" y2="1059.7" stroke="#000" stroke-width="1.1"/>
<line x1="700.85" y1="761.5" x2="700.85" y2="766.3" stroke="#000" stroke-width="1.1"/>
<line x1="728.4" y1="1064.5" x2="728.4" y2="1059.7" stroke="#000" stroke-width="1.1"/>
<line x1="728.4" y1="761.5" x2="728.4" y2="766.3" stroke="#000" stroke-width="1.1"/>
<line x1="755.95" y1="1064.5" x2="755.95" y2="1059.7" stroke="#000" stroke-width="1.1"/>
<line x1="755.95" y1="761.5" x2="755.95" y2="766.3" stroke="#000" stroke-width="1.1"/>
<line x1="783.5" y1="1064.5" x2="783.5" y2="1059.7" stroke="#000" stroke-width="1.1"/>
<line x1="783.5" y1="761.5" x2="783.5" y2="766.3" stroke="#000" stroke-width="1.1"/>
<line x1="811.05" y1="1064.5" x2="811.05" y2="1059.7" stroke="#000" stroke-width="1.1"/>
<line x1="811.05" y1="761.5" x2="811.05" y2="766.3" stroke="#000" stroke-width="1.1"/>
<line x1="563.1" y1="1064.5" x2="563.1" y2="1054.7" stroke="#000" stroke-width="1.1"/>
<line x1="563.1" y1="761.5" x2="563.1" y2="771.3" stroke="#000" stroke-width="1.1"/>
<text x="563.1" y="1085.6" fill="#000" font-size="19.5" text-anchor="middle">0.1</text>
<line x1="618.2" y1="1064.5" x2="618.2" y2="1054.7" stroke="#000" stroke-width="1.1"/>
<line x1="618.2" y1="761.5" x2="618.2" y2="771.3" stroke="#000" stroke-width="1.1"/>
<text x="618.2" y="1085.6" fill="#000" font-size="19.5" text-anchor="middle">0.2</text>
<line x1="673.3" y1="1064.5" x2="673.3" y2="1054.7" stroke="#000" stroke-width="1.1"/>
<line x1="673.3" y1="761.5" x2="673.3" y2="771.3" stroke="#000" stroke-width="1.1"/>
<text x="673.3" y="1085.6" fill="#000" font-size="19.5" text-anchor="middle">0.3</text>
<line x1="728.4" y1="1064.5" x2="728.4" y2="1054.7" stroke="#000" stroke-width="1.1"/>
<line x1="728.4" y1="761.5" x2="728.4" y2="771.3" stroke="#000" stroke-width="1.1"/>
<text x="728.4" y="1085.6" fill="#000" font-size="19.5" text-anchor="middle">0.4</text>
<line x1="783.5" y1="1064.5" x2="783.5" y2="1054.7" stroke="#000" stroke-width="1.1"/>
<line x1="783.5" y1="761.5" x2="783.5" y2="771.3" stroke="#000" stroke-width="1.1"/>
<text x="783.5" y="1085.6" fill="#000" font-size="19.5" text-anchor="middle">0.5</text>
<line x1="508" y1="1064.4" x2="512.8" y2="1064.4" stroke="#000" stroke-width="1.1"/>
<line x1="810.95" y1="1064.4" x2="806.15" y2="1064.4" stroke="#000" stroke-width="1.1"/>
<line x1="508" y1="1026.56" x2="512.8" y2="1026.56" stroke="#000" stroke-width="1.1"/>
<line x1="810.95" y1="1026.56" x2="806.15" y2="1026.56" stroke="#000" stroke-width="1.1"/>
<line x1="508" y1="988.72" x2="512.8" y2="988.72" stroke="#000" stroke-width="1.1"/>
<line x1="810.95" y1="988.72" x2="806.15" y2="988.72" stroke="#000" stroke-width="1.1"/>
<line x1="508" y1="950.88" x2="512.8" y2="950.88" stroke="#000" stroke-width="1.1"/>
<line x1="810.95" y1="950.88" x2="806.15" y2="950.88" stroke="#000" stroke-width="1.1"/>
<line x1="508" y1="913.04" x2="512.8" y2="913.04" stroke="#000" stroke-width="1.1"/>
<line x1="810.95" y1="913.04" x2="806.15" y2="913.04" stroke="#000" stroke-width="1.1"/>
<line x1="508" y1="875.2" x2="512.8" y2="875.2" stroke="#000" stroke-width="1.1"/>
<line x1="810.95" y1="875.2" x2="806.15" y2="875.2" stroke="#000" stroke-width="1.1"/>
<line x1="508" y1="837.36" x2="512.8" y2="837.36" stroke="#000" stroke-width="1.1"/>
<line x1="810.95" y1="837.36" x2="806.15" y2="837.36" stroke="#000" stroke-width="1.1"/>
<line x1="508" y1="799.52" x2="512.8" y2="799.52" stroke="#000" stroke-width="1.1"/>
<line x1="810.95" y1="799.52" x2="806.15" y2="799.52" stroke="#000" stroke-width="1.1"/>
<line x1="508" y1="761.68" x2="512.8" y2="761.68" stroke="#000" stroke-width="1.1"/>
<line x1="810.95" y1="761.68" x2="806.15" y2="761.68" stroke="#000" stroke-width="1.1"/>
<line x1="508" y1="988.72" x2="517.8" y2="988.72" stroke="#000" stroke-width="1.1"/>
<line x1="810.95" y1="988.72" x2="801.15" y2="988.72" stroke="#000" stroke-width="1.1"/>
<text x="500.4" y="995.92" fill="#000" font-size="19.5" text-anchor="end">0.2</text>
<line x1="508" y1="913.04" x2="517.8" y2="913.04" stroke="#000" stroke-width="1.1"/>
<line x1="810.95" y1="913.04" x2="801.15" y2="913.04" stroke="#000" stroke-width="1.1"/>
<text x="500.4" y="920.24" fill="#000" font-size="19.5" text-anchor="end">0.4</text>
<line x1="508" y1="837.36" x2="517.8" y2="837.36" stroke="#000" stroke-width="1.1"/>
<line x1="810.95" y1="837.36" x2="801.15" y2="837.36" stroke="#000" stroke-width="1.1"/>
<text x="500.4" y="844.56" fill="#000" font-size="19.5" text-anchor="end">0.6</text>
<text x="523.2" y="791.6" fill="#ff00ff" font-size="19.5" text-anchor="start">expo 0 2 w0.8</text>
<text x="523.8" y="815" fill="#ff00ff" font-size="19.5" text-anchor="start">Au+Au</text>
<circle cx="727.4" cy="997" r="6.9" fill="#ff0000"/>
<text x="740.8" y="993.9" fill="#ff0000" font-size="14.0" text-anchor="start">3</text>
<text x="748.3" y="1003.6" fill="#ff0000" font-size="19.5" text-anchor="start">He</text>
<path fill="#0000ff" fill-rule="evenodd" d="M720.3 1027.8L725.5 1015.3L726.85 1015.3L731.9 1027.8Z M721.9 1026.7L729.3 1026.7L725.3 1018Z"/>
<text x="737.5" y="1017.8" fill="#0000ff" font-size="14.0" text-anchor="start">3</text>
<text x="744.8" y="1027.5" fill="#0000ff" font-size="19.5" text-anchor="start">H</text>
<text x="650.4" y="1113.8" fill="#000" font-size="19.5" text-anchor="start">b</text>
<text x="661.3" y="1120.6" fill="#000" font-size="14.0" text-anchor="start">0</text>
<g transform="translate(453.8 925.2) rotate(-90)">
<text x="0" y="0" fill="#000" font-size="19.5" text-anchor="start">v</text>
<text x="10.1" y="6.9" fill="#000" font-size="14.0" text-anchor="start">2n</text>
</g>
</svg></body></html>
